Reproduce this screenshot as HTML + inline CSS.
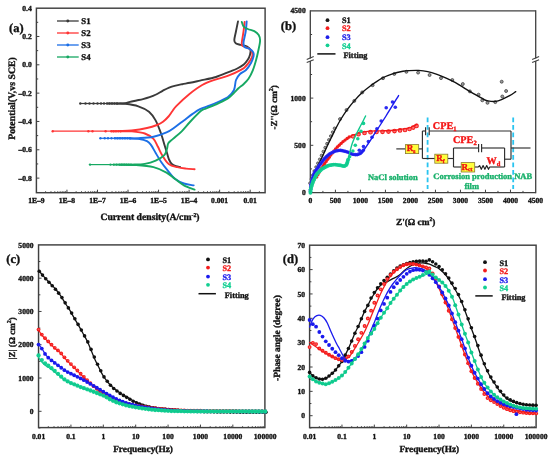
<!DOCTYPE html>
<html><head><meta charset="utf-8"><style>
html,body{margin:0;padding:0;background:#fff;}
svg{display:block;filter:blur(0.3px);}
text{font-family:"Liberation Serif", serif;stroke-width:0.35px;paint-order:stroke;text-rendering:geometricPrecision;}
</style></head><body>
<svg width="550" height="460" viewBox="0 0 550 460">
<rect width="550" height="460" fill="#fff"/>
<rect x="36.4" y="8.2" width="228.7" height="184.5" fill="none" stroke="#404040" stroke-width="1.45"/>
<text x="31.8" y="10.74" font-size="7.6" text-anchor="end" fill="#111" stroke="#111" stroke-width="0" font-weight="bold" >0.4</text>
<line x1="36.4" y1="36.47" x2="39.4" y2="36.47" stroke="#404040" stroke-width="1" />
<text x="31.8" y="39.07" font-size="7.6" text-anchor="end" fill="#111" stroke="#111" stroke-width="0" font-weight="bold" >0.2</text>
<line x1="36.4" y1="64.8" x2="39.4" y2="64.8" stroke="#404040" stroke-width="1" />
<text x="31.8" y="67.4" font-size="7.6" text-anchor="end" fill="#111" stroke="#111" stroke-width="0" font-weight="bold" >0.0</text>
<line x1="36.4" y1="93.13" x2="39.4" y2="93.13" stroke="#404040" stroke-width="1" />
<text x="31.8" y="95.73" font-size="7.6" text-anchor="end" fill="#111" stroke="#111" stroke-width="0" font-weight="bold" >&#8211;0.2</text>
<line x1="36.4" y1="121.46" x2="39.4" y2="121.46" stroke="#404040" stroke-width="1" />
<text x="31.8" y="124.06" font-size="7.6" text-anchor="end" fill="#111" stroke="#111" stroke-width="0" font-weight="bold" >&#8211;0.4</text>
<line x1="36.4" y1="149.79" x2="39.4" y2="149.79" stroke="#404040" stroke-width="1" />
<text x="31.8" y="152.39" font-size="7.6" text-anchor="end" fill="#111" stroke="#111" stroke-width="0" font-weight="bold" >&#8211;0.6</text>
<line x1="36.4" y1="178.12" x2="39.4" y2="178.12" stroke="#404040" stroke-width="1" />
<text x="31.8" y="180.72" font-size="7.6" text-anchor="end" fill="#111" stroke="#111" stroke-width="0" font-weight="bold" >&#8211;0.8</text>
<line x1="36.4" y1="22.3" x2="38.2" y2="22.3" stroke="#404040" stroke-width="1" />
<line x1="36.4" y1="50.63" x2="38.2" y2="50.63" stroke="#404040" stroke-width="1" />
<line x1="36.4" y1="78.97" x2="38.2" y2="78.97" stroke="#404040" stroke-width="1" />
<line x1="36.4" y1="107.3" x2="38.2" y2="107.3" stroke="#404040" stroke-width="1" />
<line x1="36.4" y1="135.62" x2="38.2" y2="135.62" stroke="#404040" stroke-width="1" />
<line x1="36.4" y1="163.95" x2="38.2" y2="163.95" stroke="#404040" stroke-width="1" />
<text x="36.4" y="202.8" font-size="7.6" text-anchor="middle" fill="#111" stroke="#111" stroke-width="0" font-weight="bold" >1E&#8211;9</text>
<line x1="45.59" y1="192.7" x2="45.59" y2="191.1" stroke="#404040" stroke-width="0.8" />
<line x1="50.97" y1="192.7" x2="50.97" y2="191.1" stroke="#404040" stroke-width="0.8" />
<line x1="54.79" y1="192.7" x2="54.79" y2="191.1" stroke="#404040" stroke-width="0.8" />
<line x1="57.75" y1="192.7" x2="57.75" y2="191.1" stroke="#404040" stroke-width="0.8" />
<line x1="60.16" y1="192.7" x2="60.16" y2="191.1" stroke="#404040" stroke-width="0.8" />
<line x1="62.21" y1="192.7" x2="62.21" y2="191.1" stroke="#404040" stroke-width="0.8" />
<line x1="63.98" y1="192.7" x2="63.98" y2="191.1" stroke="#404040" stroke-width="0.8" />
<line x1="65.54" y1="192.7" x2="65.54" y2="191.1" stroke="#404040" stroke-width="0.8" />
<line x1="66.94" y1="192.7" x2="66.94" y2="189.7" stroke="#404040" stroke-width="1" />
<text x="66.94" y="202.8" font-size="7.6" text-anchor="middle" fill="#111" stroke="#111" stroke-width="0" font-weight="bold" >1E&#8211;8</text>
<line x1="76.13" y1="192.7" x2="76.13" y2="191.1" stroke="#404040" stroke-width="0.8" />
<line x1="81.51" y1="192.7" x2="81.51" y2="191.1" stroke="#404040" stroke-width="0.8" />
<line x1="85.33" y1="192.7" x2="85.33" y2="191.1" stroke="#404040" stroke-width="0.8" />
<line x1="88.29" y1="192.7" x2="88.29" y2="191.1" stroke="#404040" stroke-width="0.8" />
<line x1="90.7" y1="192.7" x2="90.7" y2="191.1" stroke="#404040" stroke-width="0.8" />
<line x1="92.75" y1="192.7" x2="92.75" y2="191.1" stroke="#404040" stroke-width="0.8" />
<line x1="94.52" y1="192.7" x2="94.52" y2="191.1" stroke="#404040" stroke-width="0.8" />
<line x1="96.08" y1="192.7" x2="96.08" y2="191.1" stroke="#404040" stroke-width="0.8" />
<line x1="97.48" y1="192.7" x2="97.48" y2="189.7" stroke="#404040" stroke-width="1" />
<text x="97.48" y="202.8" font-size="7.6" text-anchor="middle" fill="#111" stroke="#111" stroke-width="0" font-weight="bold" >1E&#8211;7</text>
<line x1="106.67" y1="192.7" x2="106.67" y2="191.1" stroke="#404040" stroke-width="0.8" />
<line x1="112.05" y1="192.7" x2="112.05" y2="191.1" stroke="#404040" stroke-width="0.8" />
<line x1="115.87" y1="192.7" x2="115.87" y2="191.1" stroke="#404040" stroke-width="0.8" />
<line x1="118.83" y1="192.7" x2="118.83" y2="191.1" stroke="#404040" stroke-width="0.8" />
<line x1="121.24" y1="192.7" x2="121.24" y2="191.1" stroke="#404040" stroke-width="0.8" />
<line x1="123.29" y1="192.7" x2="123.29" y2="191.1" stroke="#404040" stroke-width="0.8" />
<line x1="125.06" y1="192.7" x2="125.06" y2="191.1" stroke="#404040" stroke-width="0.8" />
<line x1="126.62" y1="192.7" x2="126.62" y2="191.1" stroke="#404040" stroke-width="0.8" />
<line x1="128.02" y1="192.7" x2="128.02" y2="189.7" stroke="#404040" stroke-width="1" />
<text x="128.02" y="202.8" font-size="7.6" text-anchor="middle" fill="#111" stroke="#111" stroke-width="0" font-weight="bold" >1E&#8211;6</text>
<line x1="137.21" y1="192.7" x2="137.21" y2="191.1" stroke="#404040" stroke-width="0.8" />
<line x1="142.59" y1="192.7" x2="142.59" y2="191.1" stroke="#404040" stroke-width="0.8" />
<line x1="146.41" y1="192.7" x2="146.41" y2="191.1" stroke="#404040" stroke-width="0.8" />
<line x1="149.37" y1="192.7" x2="149.37" y2="191.1" stroke="#404040" stroke-width="0.8" />
<line x1="151.78" y1="192.7" x2="151.78" y2="191.1" stroke="#404040" stroke-width="0.8" />
<line x1="153.83" y1="192.7" x2="153.83" y2="191.1" stroke="#404040" stroke-width="0.8" />
<line x1="155.6" y1="192.7" x2="155.6" y2="191.1" stroke="#404040" stroke-width="0.8" />
<line x1="157.16" y1="192.7" x2="157.16" y2="191.1" stroke="#404040" stroke-width="0.8" />
<line x1="158.56" y1="192.7" x2="158.56" y2="189.7" stroke="#404040" stroke-width="1" />
<text x="158.56" y="202.8" font-size="7.6" text-anchor="middle" fill="#111" stroke="#111" stroke-width="0" font-weight="bold" >1E&#8211;5</text>
<line x1="167.75" y1="192.7" x2="167.75" y2="191.1" stroke="#404040" stroke-width="0.8" />
<line x1="173.13" y1="192.7" x2="173.13" y2="191.1" stroke="#404040" stroke-width="0.8" />
<line x1="176.95" y1="192.7" x2="176.95" y2="191.1" stroke="#404040" stroke-width="0.8" />
<line x1="179.91" y1="192.7" x2="179.91" y2="191.1" stroke="#404040" stroke-width="0.8" />
<line x1="182.32" y1="192.7" x2="182.32" y2="191.1" stroke="#404040" stroke-width="0.8" />
<line x1="184.37" y1="192.7" x2="184.37" y2="191.1" stroke="#404040" stroke-width="0.8" />
<line x1="186.14" y1="192.7" x2="186.14" y2="191.1" stroke="#404040" stroke-width="0.8" />
<line x1="187.7" y1="192.7" x2="187.7" y2="191.1" stroke="#404040" stroke-width="0.8" />
<line x1="189.1" y1="192.7" x2="189.1" y2="189.7" stroke="#404040" stroke-width="1" />
<text x="189.1" y="202.8" font-size="7.6" text-anchor="middle" fill="#111" stroke="#111" stroke-width="0" font-weight="bold" >1E&#8211;4</text>
<line x1="198.29" y1="192.7" x2="198.29" y2="191.1" stroke="#404040" stroke-width="0.8" />
<line x1="203.67" y1="192.7" x2="203.67" y2="191.1" stroke="#404040" stroke-width="0.8" />
<line x1="207.49" y1="192.7" x2="207.49" y2="191.1" stroke="#404040" stroke-width="0.8" />
<line x1="210.45" y1="192.7" x2="210.45" y2="191.1" stroke="#404040" stroke-width="0.8" />
<line x1="212.86" y1="192.7" x2="212.86" y2="191.1" stroke="#404040" stroke-width="0.8" />
<line x1="214.91" y1="192.7" x2="214.91" y2="191.1" stroke="#404040" stroke-width="0.8" />
<line x1="216.68" y1="192.7" x2="216.68" y2="191.1" stroke="#404040" stroke-width="0.8" />
<line x1="218.24" y1="192.7" x2="218.24" y2="191.1" stroke="#404040" stroke-width="0.8" />
<line x1="219.64" y1="192.7" x2="219.64" y2="189.7" stroke="#404040" stroke-width="1" />
<text x="219.64" y="202.8" font-size="7.6" text-anchor="middle" fill="#111" stroke="#111" stroke-width="0" font-weight="bold" >0.001</text>
<line x1="228.83" y1="192.7" x2="228.83" y2="191.1" stroke="#404040" stroke-width="0.8" />
<line x1="234.21" y1="192.7" x2="234.21" y2="191.1" stroke="#404040" stroke-width="0.8" />
<line x1="238.03" y1="192.7" x2="238.03" y2="191.1" stroke="#404040" stroke-width="0.8" />
<line x1="240.99" y1="192.7" x2="240.99" y2="191.1" stroke="#404040" stroke-width="0.8" />
<line x1="243.4" y1="192.7" x2="243.4" y2="191.1" stroke="#404040" stroke-width="0.8" />
<line x1="245.45" y1="192.7" x2="245.45" y2="191.1" stroke="#404040" stroke-width="0.8" />
<line x1="247.22" y1="192.7" x2="247.22" y2="191.1" stroke="#404040" stroke-width="0.8" />
<line x1="248.78" y1="192.7" x2="248.78" y2="191.1" stroke="#404040" stroke-width="0.8" />
<line x1="250.18" y1="192.7" x2="250.18" y2="189.7" stroke="#404040" stroke-width="1" />
<text x="250.18" y="202.8" font-size="7.6" text-anchor="middle" fill="#111" stroke="#111" stroke-width="0" font-weight="bold" >0.01</text>
<line x1="259.37" y1="192.7" x2="259.37" y2="191.1" stroke="#404040" stroke-width="0.8" />
<text x="150" y="220" font-size="9.7" text-anchor="middle" fill="#111" stroke="#111" stroke-width="0.35" font-weight="bold" >Current density(A/cm<tspan font-size="5.8" dy="-3.5">-2</tspan><tspan dy="3.5">)</tspan></text>
<text x="14.6" y="98.5" font-size="9.8" text-anchor="middle" fill="#111" stroke="#111" stroke-width="0.35" font-weight="bold" transform="rotate(-90 14.6 98.5)" >Potential(V,vs SCE)</text>
<text x="16.3" y="32" font-size="12.5" text-anchor="middle" fill="#111" stroke="#111" stroke-width="0.35" font-weight="bold" >(a)</text>
<line x1="57" y1="21" x2="78.7" y2="21" stroke="#3a3a3a" stroke-width="1.3" />
<circle cx="67.8" cy="21" r="1.45" fill="#3a3a3a"/>
<text x="81.3" y="24.2" font-size="8.8" text-anchor="start" fill="#111" stroke="#111" stroke-width="0.35" font-weight="bold" >S1</text>
<line x1="57" y1="33" x2="78.7" y2="33" stroke="#ff3535" stroke-width="1.3" />
<circle cx="67.8" cy="33" r="1.45" fill="#ff3535"/>
<text x="81.3" y="36.2" font-size="8.8" text-anchor="start" fill="#111" stroke="#111" stroke-width="0.35" font-weight="bold" >S2</text>
<line x1="57" y1="45" x2="78.7" y2="45" stroke="#1c6fe6" stroke-width="1.3" />
<circle cx="67.8" cy="45" r="1.45" fill="#1c6fe6"/>
<text x="81.3" y="48.2" font-size="8.8" text-anchor="start" fill="#111" stroke="#111" stroke-width="0.35" font-weight="bold" >S3</text>
<line x1="57" y1="57" x2="78.7" y2="57" stroke="#16a862" stroke-width="1.3" />
<circle cx="67.8" cy="57" r="1.45" fill="#16a862"/>
<text x="81.3" y="60.2" font-size="8.8" text-anchor="start" fill="#111" stroke="#111" stroke-width="0.35" font-weight="bold" >S4</text>
<path d="M108 103.5 C109.5 103.5 114.13 103.55 117 103.5 C119.87 103.45 123.03 103.47 125.2 103.2 C127.37 102.93 128.12 102.35 130 101.9 C131.88 101.45 134.33 100.97 136.5 100.5 C138.67 100.03 140.82 99.65 143 99.1 C145.18 98.55 147.42 97.97 149.6 97.2 C151.78 96.43 153.93 95.57 156.1 94.5 C158.27 93.43 160.43 91.95 162.6 90.8 C164.77 89.65 166.93 88.47 169.1 87.6 C171.27 86.73 173.42 86.17 175.6 85.6 C177.78 85.03 179.8 84.67 182.2 84.2 C184.6 83.73 187.03 83.4 190 82.8 C192.97 82.2 195.67 81.57 200 80.6 C204.33 79.63 211.13 78.47 216 77 C220.87 75.53 225.65 73.22 229.2 71.8 C232.75 70.38 234.87 69.72 237.3 68.5 C239.73 67.28 242.03 65.98 243.8 64.5 C245.57 63.02 246.87 61.23 247.9 59.6 C248.93 57.97 249.58 56.33 250 54.7 C250.42 53.07 250.88 51.17 250.4 49.8 C249.92 48.43 248.73 47.32 247.1 46.5 C245.47 45.68 242.5 45.43 240.6 44.9 C238.7 44.37 236.75 44.12 235.7 43.3 C234.65 42.48 234.27 41.93 234.3 40 C234.33 38.07 235.28 34.8 235.9 31.7 C236.52 28.6 237.65 23.12 238 21.4" fill="none" stroke="#3a3a3a" stroke-width="1.9" stroke-linejoin="round" stroke-linecap="round" />
<path d="M117 103.6 C118.37 103.63 121.65 103.35 125.2 103.8 C128.75 104.25 134.33 104.98 138.3 106.3 C142.27 107.62 146.12 109.35 149 111.7 C151.88 114.05 153.6 116.77 155.6 120.4 C157.6 124.03 159.52 129.4 161 133.5 C162.48 137.6 163.5 141.75 164.5 145 C165.5 148.25 166.25 150.58 167 153 C167.75 155.42 168.2 157.67 169 159.5 C169.8 161.33 170.63 162.88 171.8 164 C172.97 165.12 174.63 165.7 176 166.2 C177.37 166.7 179.33 166.87 180 167" fill="none" stroke="#3a3a3a" stroke-width="1.9" stroke-linejoin="round" stroke-linecap="round" />
<path d="M112 131.2 C113.33 131.18 116.72 131.22 120 131.1 C123.28 130.98 127.2 131.02 131.7 130.5 C136.2 129.98 142.78 128.92 147 128 C151.22 127.08 154.33 126.03 157 125 C159.67 123.97 161.08 123.22 163 121.8 C164.92 120.38 166.92 118.3 168.5 116.5 C170.08 114.7 171.17 112.78 172.5 111 C173.83 109.22 173.72 108.6 176.5 105.8 C179.28 103 184.92 97.67 189.2 94.2 C193.48 90.73 197.85 87.43 202.2 85 C206.55 82.57 210.95 81.15 215.3 79.6 C219.65 78.05 223.95 77.37 228.3 75.7 C232.65 74.03 238.45 71.22 241.4 69.6 C244.35 67.98 244.48 67.6 246 66 C247.52 64.4 249.42 61.83 250.5 60 C251.58 58.17 252.42 56.63 252.5 55 C252.58 53.37 251.97 51.45 251 50.2 C250.03 48.95 248.13 48.22 246.7 47.5 C245.27 46.78 243.22 46.72 242.4 45.9 C241.58 45.08 241.62 44.97 241.8 42.6 C241.98 40.23 243.03 35.13 243.5 31.7 C243.97 28.27 244.42 23.62 244.6 22" fill="none" stroke="#ff3535" stroke-width="1.9" stroke-linejoin="round" stroke-linecap="round" />
<path d="M120 131.2 C121.95 131.23 127.57 131.02 131.7 131.4 C135.83 131.78 141.17 132.25 144.8 133.5 C148.43 134.75 151.33 136.73 153.5 138.9 C155.67 141.07 156.35 143.78 157.8 146.5 C159.25 149.22 160.38 152.3 162.2 155.2 C164.02 158.1 166.17 161.9 168.7 163.9 C171.23 165.9 174.52 166.42 177.4 167.2 C180.28 167.98 183.13 168.27 186 168.6 C188.87 168.93 193.17 169.1 194.6 169.2" fill="none" stroke="#ff3535" stroke-width="1.9" stroke-linejoin="round" stroke-linecap="round" />
<path d="M115 138.3 C117.5 138.3 126.12 138.32 130 138.3 C133.88 138.28 134.38 138.47 138.3 138.2 C142.22 137.93 148.8 137.67 153.5 136.7 C158.2 135.73 162.88 134.02 166.5 132.4 C170.12 130.78 172.3 129 175.2 127 C178.1 125 181 122.58 183.9 120.4 C186.8 118.22 189.92 115.77 192.6 113.9 C195.28 112.03 197.1 110.6 200 109.2 C202.9 107.8 207 106.7 210 105.5 C213 104.3 215 103.42 218 102 C221 100.58 225.33 99 228 97 C230.67 95 232.67 92.83 234 90 C235.33 87.17 235 82.67 236 80 C237 77.33 238.33 75.67 240 74 C241.67 72.33 244.17 71.83 246 70 C247.83 68.17 249.73 65.33 251 63 C252.27 60.67 253.22 57.77 253.6 56 C253.98 54.23 253.9 53.55 253.3 52.4 C252.7 51.25 251.45 50 250 49.1 C248.55 48.2 245.68 48.08 244.6 47 C243.52 45.92 243.32 45.15 243.5 42.6 C243.68 40.05 245.17 35.23 245.7 31.7 C246.23 28.17 246.53 23.12 246.7 21.4" fill="none" stroke="#1c6fe6" stroke-width="1.9" stroke-linejoin="round" stroke-linecap="round" />
<path d="M130 138.5 C131.38 138.57 135.47 138.47 138.3 138.9 C141.13 139.33 144.83 140.02 147 141.1 C149.17 142.18 149.85 143.42 151.3 145.4 C152.75 147.38 154.08 150.28 155.7 153 C157.32 155.72 159.02 158.8 161 161.7 C162.98 164.6 165.23 167.5 167.6 170.4 C169.97 173.3 172.48 176.92 175.2 179.1 C177.92 181.28 180.82 182.45 183.9 183.5 C186.98 184.55 192.07 185.08 193.7 185.4" fill="none" stroke="#1c6fe6" stroke-width="1.9" stroke-linejoin="round" stroke-linecap="round" />
<path d="M114 164.6 C115.33 164.6 119.05 164.6 122 164.6 C124.95 164.6 127.9 164.72 131.7 164.6 C135.5 164.48 140.8 164.55 144.8 163.9 C148.8 163.25 152.45 162.15 155.7 160.7 C158.95 159.25 162.42 157.2 164.3 155.2 C166.18 153.2 166.33 150.68 167 148.7 C167.67 146.72 167.3 144.93 168.3 143.3 C169.3 141.67 170.77 140.9 173 138.9 C175.23 136.9 178.8 134.2 181.7 131.3 C184.6 128.4 187.12 124.95 190.4 121.5 C193.68 118.05 198.75 112.77 201.4 110.6 C204.05 108.43 203.58 109.67 206.3 108.5 C209.02 107.33 214.17 105.23 217.7 103.6 C221.23 101.97 224.88 100.38 227.5 98.7 C230.12 97.02 231.57 95.23 233.4 93.5 C235.23 91.77 236.82 89.85 238.5 88.3 C240.18 86.75 241.83 85.78 243.5 84.2 C245.17 82.62 246.95 81.1 248.5 78.8 C250.05 76.5 251.53 73.53 252.8 70.4 C254.07 67.27 255.15 63.43 256.1 60 C257.05 56.57 257.83 53.05 258.5 49.8 C259.17 46.55 260.07 42.97 260.1 40.5 C260.13 38.03 259.67 36.55 258.7 35 C257.73 33.45 256.12 32.2 254.3 31.2 C252.48 30.2 249.6 29.82 247.8 29 C246 28.18 244.5 27.47 243.5 26.3 C242.5 25.13 242.08 22.72 241.8 22" fill="none" stroke="#16a862" stroke-width="1.9" stroke-linejoin="round" stroke-linecap="round" />
<path d="M120 164.7 C122.67 164.75 130.42 164.58 136 165 C141.58 165.42 148.42 165.93 153.5 167.2 C158.58 168.47 162.88 170.62 166.5 172.6 C170.12 174.58 172.3 176.98 175.2 179.1 C178.1 181.22 180.67 183.55 183.9 185.3 C187.13 187.05 192.82 188.88 194.6 189.6" fill="none" stroke="#16a862" stroke-width="1.9" stroke-linejoin="round" stroke-linecap="round" />
<line x1="80.3" y1="103.5" x2="108.5" y2="103.5" stroke="#3a3a3a" stroke-width="1.2" />
<circle cx="80.3" cy="103.5" r="1.2" fill="#3a3a3a"/>
<circle cx="85.5" cy="103.5" r="1.2" fill="#3a3a3a"/>
<circle cx="89.5" cy="103.5" r="1.2" fill="#3a3a3a"/>
<circle cx="93.5" cy="103.5" r="1.2" fill="#3a3a3a"/>
<circle cx="97.5" cy="103.5" r="1.2" fill="#3a3a3a"/>
<circle cx="101" cy="103.5" r="1.2" fill="#3a3a3a"/>
<circle cx="104" cy="103.5" r="1.2" fill="#3a3a3a"/>
<circle cx="107" cy="103.5" r="1.2" fill="#3a3a3a"/>
<circle cx="109.5" cy="103.5" r="1.2" fill="#3a3a3a"/>
<circle cx="112" cy="103.5" r="1.2" fill="#3a3a3a"/>
<circle cx="114.5" cy="103.5" r="1.2" fill="#3a3a3a"/>
<circle cx="117" cy="103.5" r="1.2" fill="#3a3a3a"/>
<line x1="52.7" y1="131.2" x2="112.5" y2="131.2" stroke="#ff3535" stroke-width="1.2" />
<circle cx="52.7" cy="131.2" r="1.2" fill="#ff3535"/>
<circle cx="88.4" cy="131.2" r="1.2" fill="#ff3535"/>
<circle cx="92.5" cy="131.2" r="1.2" fill="#ff3535"/>
<circle cx="105.6" cy="131.2" r="1.2" fill="#ff3535"/>
<circle cx="111.3" cy="131.2" r="1.2" fill="#ff3535"/>
<circle cx="113.7" cy="131.2" r="1.2" fill="#ff3535"/>
<circle cx="116" cy="131.2" r="1.2" fill="#ff3535"/>
<circle cx="118.3" cy="131.2" r="1.2" fill="#ff3535"/>
<circle cx="120.5" cy="131.2" r="1.2" fill="#ff3535"/>
<line x1="100.3" y1="138.3" x2="115.5" y2="138.3" stroke="#1c6fe6" stroke-width="1.2" />
<circle cx="100.4" cy="138.3" r="1.2" fill="#1c6fe6"/>
<circle cx="104.7" cy="138.3" r="1.2" fill="#1c6fe6"/>
<circle cx="108" cy="138.3" r="1.2" fill="#1c6fe6"/>
<circle cx="111.5" cy="138.3" r="1.2" fill="#1c6fe6"/>
<circle cx="114.8" cy="138.3" r="1.2" fill="#1c6fe6"/>
<circle cx="117.5" cy="138.3" r="1.2" fill="#1c6fe6"/>
<circle cx="120" cy="138.3" r="1.2" fill="#1c6fe6"/>
<circle cx="122.5" cy="138.3" r="1.2" fill="#1c6fe6"/>
<circle cx="125" cy="138.3" r="1.2" fill="#1c6fe6"/>
<circle cx="127.5" cy="138.3" r="1.2" fill="#1c6fe6"/>
<circle cx="130" cy="138.3" r="1.2" fill="#1c6fe6"/>
<line x1="90" y1="164.6" x2="114.5" y2="164.6" stroke="#16a862" stroke-width="1.2" />
<circle cx="90" cy="164.6" r="1.2" fill="#16a862"/>
<circle cx="110.5" cy="164.6" r="1.2" fill="#16a862"/>
<circle cx="113.7" cy="164.6" r="1.2" fill="#16a862"/>
<circle cx="116.6" cy="164.6" r="1.2" fill="#16a862"/>
<circle cx="119.3" cy="164.6" r="1.2" fill="#16a862"/>
<circle cx="121.8" cy="164.6" r="1.2" fill="#16a862"/>
<circle cx="124.2" cy="164.6" r="1.2" fill="#16a862"/>
<circle cx="126.5" cy="164.6" r="1.2" fill="#16a862"/>
<circle cx="128.8" cy="164.6" r="1.2" fill="#16a862"/>
<circle cx="131" cy="164.6" r="1.2" fill="#16a862"/>
<line x1="310.3" y1="10.8" x2="535.7" y2="10.8" stroke="#404040" stroke-width="1.3" />
<line x1="310.3" y1="192.7" x2="535.7" y2="192.7" stroke="#404040" stroke-width="1.3" />
<line x1="310.3" y1="10.15" x2="310.3" y2="58.4" stroke="#404040" stroke-width="1.3" />
<line x1="310.3" y1="61" x2="310.3" y2="193.35" stroke="#404040" stroke-width="1.3" />
<line x1="306.7" y1="59.4" x2="313.7" y2="56.5" stroke="#404040" stroke-width="1.1" />
<line x1="306.7" y1="62.6" x2="313.7" y2="59.7" stroke="#404040" stroke-width="1.1" />
<line x1="535.7" y1="10.15" x2="535.7" y2="58.4" stroke="#404040" stroke-width="1.3" />
<line x1="535.7" y1="61" x2="535.7" y2="193.35" stroke="#404040" stroke-width="1.3" />
<line x1="532.1" y1="59.4" x2="539.1" y2="56.5" stroke="#404040" stroke-width="1.1" />
<line x1="532.1" y1="62.6" x2="539.1" y2="59.7" stroke="#404040" stroke-width="1.1" />
<text x="305.7" y="195.1" font-size="7.6" text-anchor="end" fill="#111" stroke="#111" stroke-width="0" font-weight="bold" >0</text>
<line x1="310.3" y1="145.3" x2="313.3" y2="145.3" stroke="#404040" stroke-width="1" />
<text x="305.7" y="147.9" font-size="7.6" text-anchor="end" fill="#111" stroke="#111" stroke-width="0" font-weight="bold" >500</text>
<line x1="310.3" y1="98.1" x2="313.3" y2="98.1" stroke="#404040" stroke-width="1" />
<text x="305.7" y="100.7" font-size="7.6" text-anchor="end" fill="#111" stroke="#111" stroke-width="0" font-weight="bold" >1000</text>
<line x1="310.3" y1="168.9" x2="312.1" y2="168.9" stroke="#404040" stroke-width="1" />
<line x1="310.3" y1="121.7" x2="312.1" y2="121.7" stroke="#404040" stroke-width="1" />
<line x1="310.3" y1="74.5" x2="312.1" y2="74.5" stroke="#404040" stroke-width="1" />
<text x="305.7" y="13.4" font-size="7.6" text-anchor="end" fill="#111" stroke="#111" stroke-width="0" font-weight="bold" >4500</text>
<line x1="310.3" y1="34.5" x2="312.1" y2="34.5" stroke="#404040" stroke-width="1" />
<text x="310.4" y="203" font-size="7.6" text-anchor="middle" fill="#111" stroke="#111" stroke-width="0" font-weight="bold" >0</text>
<line x1="335.41" y1="192.7" x2="335.41" y2="189.7" stroke="#404040" stroke-width="1" />
<text x="335.41" y="203" font-size="7.6" text-anchor="middle" fill="#111" stroke="#111" stroke-width="0" font-weight="bold" >500</text>
<line x1="360.42" y1="192.7" x2="360.42" y2="189.7" stroke="#404040" stroke-width="1" />
<text x="360.42" y="203" font-size="7.6" text-anchor="middle" fill="#111" stroke="#111" stroke-width="0" font-weight="bold" >1000</text>
<line x1="385.43" y1="192.7" x2="385.43" y2="189.7" stroke="#404040" stroke-width="1" />
<text x="385.43" y="203" font-size="7.6" text-anchor="middle" fill="#111" stroke="#111" stroke-width="0" font-weight="bold" >1500</text>
<line x1="410.44" y1="192.7" x2="410.44" y2="189.7" stroke="#404040" stroke-width="1" />
<text x="410.44" y="203" font-size="7.6" text-anchor="middle" fill="#111" stroke="#111" stroke-width="0" font-weight="bold" >2000</text>
<line x1="435.45" y1="192.7" x2="435.45" y2="189.7" stroke="#404040" stroke-width="1" />
<text x="435.45" y="203" font-size="7.6" text-anchor="middle" fill="#111" stroke="#111" stroke-width="0" font-weight="bold" >2500</text>
<line x1="460.46" y1="192.7" x2="460.46" y2="189.7" stroke="#404040" stroke-width="1" />
<text x="460.46" y="203" font-size="7.6" text-anchor="middle" fill="#111" stroke="#111" stroke-width="0" font-weight="bold" >3000</text>
<line x1="485.47" y1="192.7" x2="485.47" y2="189.7" stroke="#404040" stroke-width="1" />
<text x="485.47" y="203" font-size="7.6" text-anchor="middle" fill="#111" stroke="#111" stroke-width="0" font-weight="bold" >3500</text>
<line x1="510.48" y1="192.7" x2="510.48" y2="189.7" stroke="#404040" stroke-width="1" />
<text x="510.48" y="203" font-size="7.6" text-anchor="middle" fill="#111" stroke="#111" stroke-width="0" font-weight="bold" >4000</text>
<text x="535.49" y="203" font-size="7.6" text-anchor="middle" fill="#111" stroke="#111" stroke-width="0" font-weight="bold" >4500</text>
<line x1="322.9" y1="192.7" x2="322.9" y2="190.9" stroke="#404040" stroke-width="1" />
<line x1="347.91" y1="192.7" x2="347.91" y2="190.9" stroke="#404040" stroke-width="1" />
<line x1="372.92" y1="192.7" x2="372.92" y2="190.9" stroke="#404040" stroke-width="1" />
<line x1="397.93" y1="192.7" x2="397.93" y2="190.9" stroke="#404040" stroke-width="1" />
<line x1="422.94" y1="192.7" x2="422.94" y2="190.9" stroke="#404040" stroke-width="1" />
<line x1="447.95" y1="192.7" x2="447.95" y2="190.9" stroke="#404040" stroke-width="1" />
<line x1="472.96" y1="192.7" x2="472.96" y2="190.9" stroke="#404040" stroke-width="1" />
<line x1="497.98" y1="192.7" x2="497.98" y2="190.9" stroke="#404040" stroke-width="1" />
<line x1="522.99" y1="192.7" x2="522.99" y2="190.9" stroke="#404040" stroke-width="1" />
<text x="415.7" y="224.5" font-size="9.3" text-anchor="middle" fill="#111" stroke="#111" stroke-width="0.35" font-weight="bold" >Z'(&#937; cm<tspan font-size="5.6" dy="-3.5">2</tspan><tspan dy="3.5">)</tspan></text>
<text x="276.7" y="107.4" font-size="9.1" text-anchor="middle" fill="#111" stroke="#111" stroke-width="0.35" font-weight="bold" transform="rotate(-90 276.7 107.4)" >-Z''(&#937; cm<tspan font-size="6" dy="-3.5">2</tspan><tspan dy="3.5">)</tspan></text>
<text x="288.5" y="29.9" font-size="12.5" text-anchor="middle" fill="#111" stroke="#111" stroke-width="0.35" font-weight="bold" >(b)</text>
<circle cx="327.5" cy="20.2" r="1.9" fill="#1a1a1a"/>
<text x="342" y="23.4" font-size="8.3" text-anchor="start" fill="#111" stroke="#111" stroke-width="0.35" font-weight="bold" >S1</text>
<circle cx="327.5" cy="28.2" r="1.9" fill="#f41c1c"/>
<text x="342" y="31.4" font-size="8.3" text-anchor="start" fill="#f41c1c" stroke="#f41c1c" stroke-width="0.35" font-weight="bold" >S2</text>
<circle cx="327.5" cy="37.2" r="1.9" fill="#1f1fe8"/>
<text x="342" y="40.4" font-size="8.3" text-anchor="start" fill="#1f1fe8" stroke="#1f1fe8" stroke-width="0.35" font-weight="bold" >S3</text>
<circle cx="327.5" cy="45.3" r="1.9" fill="#12cf92"/>
<text x="342" y="48.5" font-size="8.3" text-anchor="start" fill="#12cf92" stroke="#12cf92" stroke-width="0.35" font-weight="bold" >S4</text>
<line x1="317.3" y1="53.9" x2="335.5" y2="53.9" stroke="#111" stroke-width="1.5" />
<text x="343.5" y="58.2" font-size="8.3" text-anchor="start" fill="#111" stroke="#111" stroke-width="0.35" font-weight="bold" >Fitting</text>
<circle cx="310" cy="183.2" r="1.4" fill="#9a9a9a" stroke="#333" stroke-width="0.6"/>
<circle cx="311.43" cy="179.15" r="1.4" fill="#9a9a9a" stroke="#333" stroke-width="0.6"/>
<circle cx="312.87" cy="175.09" r="1.4" fill="#9a9a9a" stroke="#333" stroke-width="0.6"/>
<circle cx="314.3" cy="171.04" r="1.4" fill="#9a9a9a" stroke="#333" stroke-width="0.6"/>
<circle cx="316.06" cy="167.12" r="1.4" fill="#9a9a9a" stroke="#333" stroke-width="0.6"/>
<circle cx="317.91" cy="163.24" r="1.4" fill="#9a9a9a" stroke="#333" stroke-width="0.6"/>
<circle cx="319.75" cy="159.35" r="1.4" fill="#9a9a9a" stroke="#333" stroke-width="0.6"/>
<circle cx="321.56" cy="155.45" r="1.4" fill="#9a9a9a" stroke="#333" stroke-width="0.6"/>
<circle cx="323.35" cy="151.54" r="1.4" fill="#9a9a9a" stroke="#333" stroke-width="0.6"/>
<circle cx="325.14" cy="147.63" r="1.4" fill="#9a9a9a" stroke="#333" stroke-width="0.6"/>
<circle cx="327" cy="143.75" r="1.4" fill="#9a9a9a" stroke="#333" stroke-width="0.6"/>
<circle cx="328.89" cy="139.89" r="1.4" fill="#9a9a9a" stroke="#333" stroke-width="0.6"/>
<circle cx="330.78" cy="136.03" r="1.4" fill="#9a9a9a" stroke="#333" stroke-width="0.6"/>
<circle cx="332.67" cy="132.17" r="1.4" fill="#9a9a9a" stroke="#333" stroke-width="0.6"/>
<circle cx="334.56" cy="128.3" r="1.4" fill="#9a9a9a" stroke="#333" stroke-width="0.6"/>
<circle cx="340" cy="119.1" r="1.5" fill="#9a9a9a" stroke="#333" stroke-width="0.7"/>
<circle cx="346.5" cy="110" r="1.5" fill="#9a9a9a" stroke="#333" stroke-width="0.7"/>
<circle cx="354.3" cy="100.9" r="1.5" fill="#9a9a9a" stroke="#333" stroke-width="0.7"/>
<circle cx="362.2" cy="92.4" r="1.5" fill="#9a9a9a" stroke="#333" stroke-width="0.7"/>
<circle cx="372.6" cy="85.2" r="1.5" fill="#9a9a9a" stroke="#333" stroke-width="0.7"/>
<circle cx="383" cy="78.2" r="1.5" fill="#9a9a9a" stroke="#333" stroke-width="0.7"/>
<circle cx="394.3" cy="73.9" r="1.5" fill="#9a9a9a" stroke="#333" stroke-width="0.7"/>
<circle cx="406.4" cy="71.8" r="1.5" fill="#9a9a9a" stroke="#333" stroke-width="0.7"/>
<circle cx="418.1" cy="72.6" r="1.5" fill="#9a9a9a" stroke="#333" stroke-width="0.7"/>
<circle cx="429.6" cy="75" r="1.5" fill="#9a9a9a" stroke="#333" stroke-width="0.7"/>
<circle cx="441" cy="78.1" r="1.5" fill="#9a9a9a" stroke="#333" stroke-width="0.7"/>
<circle cx="452.3" cy="80" r="1.5" fill="#9a9a9a" stroke="#333" stroke-width="0.7"/>
<circle cx="462.8" cy="84" r="1.5" fill="#9a9a9a" stroke="#333" stroke-width="0.7"/>
<circle cx="469.9" cy="91.4" r="1.5" fill="#9a9a9a" stroke="#333" stroke-width="0.7"/>
<circle cx="478.6" cy="94.7" r="1.5" fill="#9a9a9a" stroke="#333" stroke-width="0.7"/>
<circle cx="482.3" cy="100.3" r="1.5" fill="#9a9a9a" stroke="#333" stroke-width="0.7"/>
<circle cx="487.5" cy="102.8" r="1.5" fill="#9a9a9a" stroke="#333" stroke-width="0.7"/>
<circle cx="495.3" cy="102.1" r="1.5" fill="#9a9a9a" stroke="#333" stroke-width="0.7"/>
<circle cx="502.3" cy="96.5" r="1.5" fill="#9a9a9a" stroke="#333" stroke-width="0.7"/>
<circle cx="506.1" cy="91" r="1.5" fill="#9a9a9a" stroke="#333" stroke-width="0.7"/>
<circle cx="501.7" cy="81.7" r="1.5" fill="#9a9a9a" stroke="#333" stroke-width="0.7"/>
<path d="M310.4 190.5 C310.53 189.33 310.3 186.83 311.2 183.5 C312.1 180.17 314.08 174.67 315.8 170.5 C317.52 166.33 319.63 162.5 321.5 158.5 C323.37 154.5 325.35 150 327 146.5 C328.65 143 329.85 140.67 331.4 137.5 C332.95 134.33 334.65 130.67 336.3 127.5 C337.95 124.33 339.38 121.6 341.3 118.5 C343.22 115.4 345.63 111.83 347.8 108.9 C349.97 105.97 351.9 103.62 354.3 100.9 C356.7 98.18 359.58 95.05 362.2 92.6 C364.82 90.15 366.68 88.6 370 86.2 C373.32 83.8 378.35 80.25 382.1 78.2 C385.85 76.15 389.02 75.05 392.5 73.9 C395.98 72.75 400.22 71.85 403 71.3 C405.78 70.75 406.62 70.75 409.2 70.6 C411.78 70.45 415.42 70.23 418.5 70.4 C421.58 70.57 424.62 70.93 427.7 71.6 C430.78 72.27 433.92 73.32 437 74.4 C440.08 75.48 443.12 76.72 446.2 78.1 C449.28 79.48 452.42 81 455.5 82.7 C458.58 84.4 461.63 86.45 464.7 88.3 C467.77 90.15 470.82 92.02 473.9 93.8 C476.98 95.58 480.85 97.82 483.2 99 C485.55 100.18 485.92 100.5 488 100.9 C490.08 101.3 493.27 101.7 495.7 101.4 C498.13 101.1 500.28 100.05 502.6 99.1 C504.92 98.15 507.42 96.93 509.6 95.7 C511.78 94.47 514.68 92.37 515.7 91.7" fill="none" stroke="#111" stroke-width="1.4" stroke-linejoin="round" stroke-linecap="round" />
<circle cx="316.7" cy="176.9" r="1.7" fill="#f42020"/>
<circle cx="317.93" cy="174.61" r="1.7" fill="#f42020"/>
<circle cx="319.17" cy="172.32" r="1.7" fill="#f42020"/>
<circle cx="320.43" cy="170.05" r="1.7" fill="#f42020"/>
<circle cx="321.83" cy="167.86" r="1.7" fill="#f42020"/>
<circle cx="323.23" cy="165.67" r="1.7" fill="#f42020"/>
<circle cx="324.66" cy="163.5" r="1.7" fill="#f42020"/>
<circle cx="326.19" cy="161.4" r="1.7" fill="#f42020"/>
<circle cx="327.72" cy="159.29" r="1.7" fill="#f42020"/>
<circle cx="329.25" cy="157.19" r="1.7" fill="#f42020"/>
<circle cx="330.79" cy="155.1" r="1.7" fill="#f42020"/>
<circle cx="332.41" cy="153.06" r="1.7" fill="#f42020"/>
<circle cx="334.02" cy="151.03" r="1.7" fill="#f42020"/>
<circle cx="335.64" cy="148.99" r="1.7" fill="#f42020"/>
<circle cx="337.36" cy="147.05" r="1.7" fill="#f42020"/>
<circle cx="339.22" cy="145.23" r="1.7" fill="#f42020"/>
<circle cx="341.07" cy="143.4" r="1.7" fill="#f42020"/>
<circle cx="342.97" cy="141.63" r="1.7" fill="#f42020"/>
<circle cx="345.06" cy="140.09" r="1.7" fill="#f42020"/>
<circle cx="347.15" cy="138.54" r="1.7" fill="#f42020"/>
<circle cx="349.24" cy="137" r="1.7" fill="#f42020"/>
<circle cx="353" cy="136.3" r="1.8" fill="#ff7a7a" stroke="#f42020" stroke-width="1.1"/>
<circle cx="358.5" cy="134.26" r="1.8" fill="#ff7a7a" stroke="#f42020" stroke-width="1.1"/>
<circle cx="364.5" cy="132.98" r="1.8" fill="#ff7a7a" stroke="#f42020" stroke-width="1.1"/>
<circle cx="370.5" cy="132.22" r="1.8" fill="#ff7a7a" stroke="#f42020" stroke-width="1.1"/>
<circle cx="376.5" cy="131.88" r="1.8" fill="#ff7a7a" stroke="#f42020" stroke-width="1.1"/>
<circle cx="382.5" cy="131.79" r="1.8" fill="#ff7a7a" stroke="#f42020" stroke-width="1.1"/>
<circle cx="388.5" cy="131.58" r="1.8" fill="#ff7a7a" stroke="#f42020" stroke-width="1.1"/>
<circle cx="394.5" cy="131.09" r="1.8" fill="#ff7a7a" stroke="#f42020" stroke-width="1.1"/>
<circle cx="400" cy="130.42" r="1.8" fill="#ff7a7a" stroke="#f42020" stroke-width="1.1"/>
<circle cx="405" cy="130.02" r="1.8" fill="#ff7a7a" stroke="#f42020" stroke-width="1.1"/>
<circle cx="409.5" cy="129.01" r="1.8" fill="#ff7a7a" stroke="#f42020" stroke-width="1.1"/>
<circle cx="413.2" cy="127.62" r="1.8" fill="#ff7a7a" stroke="#f42020" stroke-width="1.1"/>
<circle cx="416.5" cy="125.91" r="1.8" fill="#ff7a7a" stroke="#f42020" stroke-width="1.1"/>
<path d="M311 190 C311.33 189 312.15 186.08 313 184 C313.85 181.92 315 179.67 316.1 177.5 C317.2 175.33 318.33 173.15 319.6 171 C320.87 168.85 322 167.07 323.7 164.6 C325.4 162.13 327.77 158.88 329.8 156.2 C331.83 153.52 333.87 150.78 335.9 148.5 C337.93 146.22 339.65 144.48 342 142.5 C344.35 140.52 347.78 137.97 350 136.6 C352.22 135.23 353.6 134.95 355.3 134.3 C357 133.65 358.08 133.18 360.2 132.7 C362.32 132.22 365.53 131.7 368 131.4 C370.47 131.1 372.65 131 375 130.9 C377.35 130.8 379.43 130.87 382.1 130.8 C384.77 130.73 388.1 130.72 391 130.5 C393.9 130.28 396.83 129.87 399.5 129.5 C402.17 129.13 404.97 128.72 407 128.3 C409.03 127.88 410.05 127.67 411.7 127 C413.35 126.33 416.03 124.75 416.9 124.3" fill="none" stroke="#f01a1a" stroke-width="1.3" stroke-linejoin="round" stroke-linecap="round" />
<circle cx="310.4" cy="190.8" r="1.8" fill="#2b2bf2"/>
<circle cx="310.59" cy="189.21" r="1.8" fill="#2b2bf2"/>
<circle cx="310.79" cy="187.62" r="1.8" fill="#2b2bf2"/>
<circle cx="310.98" cy="186.03" r="1.8" fill="#2b2bf2"/>
<circle cx="311.17" cy="184.45" r="1.8" fill="#2b2bf2"/>
<circle cx="311.49" cy="182.88" r="1.8" fill="#2b2bf2"/>
<circle cx="311.84" cy="181.32" r="1.8" fill="#2b2bf2"/>
<circle cx="312.18" cy="179.75" r="1.8" fill="#2b2bf2"/>
<circle cx="312.54" cy="178.2" r="1.8" fill="#2b2bf2"/>
<circle cx="313.07" cy="176.69" r="1.8" fill="#2b2bf2"/>
<circle cx="313.6" cy="175.18" r="1.8" fill="#2b2bf2"/>
<circle cx="314.13" cy="173.67" r="1.8" fill="#2b2bf2"/>
<circle cx="314.76" cy="172.21" r="1.8" fill="#2b2bf2"/>
<circle cx="315.66" cy="170.89" r="1.8" fill="#2b2bf2"/>
<circle cx="316.56" cy="169.56" r="1.8" fill="#2b2bf2"/>
<circle cx="317.45" cy="168.24" r="1.8" fill="#2b2bf2"/>
<circle cx="318.35" cy="166.91" r="1.8" fill="#2b2bf2"/>
<circle cx="319.27" cy="165.6" r="1.8" fill="#2b2bf2"/>
<circle cx="320.21" cy="164.31" r="1.8" fill="#2b2bf2"/>
<circle cx="321.15" cy="163.01" r="1.8" fill="#2b2bf2"/>
<circle cx="322.1" cy="161.72" r="1.8" fill="#2b2bf2"/>
<circle cx="323.04" cy="160.43" r="1.8" fill="#2b2bf2"/>
<circle cx="323.98" cy="159.14" r="1.8" fill="#2b2bf2"/>
<circle cx="325.08" cy="157.99" r="1.8" fill="#2b2bf2"/>
<circle cx="326.27" cy="156.91" r="1.8" fill="#2b2bf2"/>
<circle cx="327.45" cy="155.84" r="1.8" fill="#2b2bf2"/>
<circle cx="328.64" cy="154.76" r="1.8" fill="#2b2bf2"/>
<circle cx="329.85" cy="153.73" r="1.8" fill="#2b2bf2"/>
<circle cx="331.29" cy="153.02" r="1.8" fill="#2b2bf2"/>
<circle cx="332.72" cy="152.32" r="1.8" fill="#2b2bf2"/>
<circle cx="334.16" cy="151.61" r="1.8" fill="#2b2bf2"/>
<circle cx="335.64" cy="151.04" r="1.8" fill="#2b2bf2"/>
<circle cx="337.22" cy="150.8" r="1.8" fill="#2b2bf2"/>
<circle cx="338.8" cy="150.57" r="1.8" fill="#2b2bf2"/>
<circle cx="340.38" cy="150.33" r="1.8" fill="#2b2bf2"/>
<circle cx="341.95" cy="150.61" r="1.8" fill="#2b2bf2"/>
<circle cx="343.51" cy="150.97" r="1.8" fill="#2b2bf2"/>
<circle cx="345.06" cy="151.33" r="1.8" fill="#2b2bf2"/>
<circle cx="346.62" cy="151.69" r="1.8" fill="#2b2bf2"/>
<circle cx="348.11" cy="152.26" r="1.8" fill="#2b2bf2"/>
<circle cx="349.57" cy="152.92" r="1.8" fill="#2b2bf2"/>
<circle cx="351.03" cy="153.58" r="1.8" fill="#2b2bf2"/>
<circle cx="352.49" cy="154.21" r="1.8" fill="#2b2bf2"/>
<circle cx="354.08" cy="154.44" r="1.8" fill="#2b2bf2"/>
<circle cx="355.66" cy="154.67" r="1.8" fill="#2b2bf2"/>
<circle cx="357.22" cy="154.59" r="1.8" fill="#2b2bf2"/>
<circle cx="358.73" cy="154.09" r="1.8" fill="#2b2bf2"/>
<circle cx="360.24" cy="153.56" r="1.8" fill="#2b2bf2"/>
<circle cx="361.33" cy="152.39" r="1.8" fill="#2b2bf2"/>
<circle cx="362.42" cy="151.22" r="1.8" fill="#2b2bf2"/>
<circle cx="363.51" cy="150.05" r="1.8" fill="#2b2bf2"/>
<circle cx="359.3" cy="150.2" r="1.8" fill="#2b2bf2"/>
<circle cx="363.5" cy="146.5" r="1.8" fill="#2b2bf2"/>
<circle cx="368.4" cy="141.5" r="1.8" fill="#2b2bf2"/>
<circle cx="372" cy="137.3" r="1.8" fill="#2b2bf2"/>
<circle cx="376.9" cy="128.7" r="1.8" fill="#2b2bf2"/>
<circle cx="381.2" cy="121" r="1.8" fill="#2b2bf2"/>
<circle cx="386.2" cy="107.7" r="1.8" fill="#2b2bf2"/>
<circle cx="392.5" cy="102" r="1.8" fill="#2b2bf2"/>
<circle cx="395.3" cy="107.3" r="1.8" fill="#2b2bf2"/>
<path d="M310.4 191 C310.53 189.9 310.85 186.48 311.2 184.4 C311.55 182.32 311.95 180.43 312.5 178.5 C313.05 176.57 313.43 174.83 314.5 172.8 C315.57 170.77 317.27 168.62 318.9 166.3 C320.53 163.98 322.5 160.95 324.3 158.9 C326.1 156.85 327.88 155.27 329.7 154 C331.52 152.73 333.38 151.88 335.2 151.3 C337.02 150.72 338.62 150.38 340.6 150.5 C342.58 150.62 345.13 151.35 347.1 152 C349.07 152.65 350.82 153.9 352.4 154.4 C353.98 154.9 355.3 155.1 356.6 155 C357.9 154.9 358.92 154.73 360.2 153.8 C361.48 152.87 363 151.03 364.3 149.4 C365.6 147.77 366.72 145.93 368 144 C369.28 142.07 369 142.47 372 137.8 C375 133.13 381.57 123.03 386 116 C390.43 108.97 396.5 99 398.6 95.6" fill="none" stroke="#1a1aee" stroke-width="1.4" stroke-linejoin="round" stroke-linecap="round" />
<circle cx="310.4" cy="192.8" r="1.9" fill="#14d093"/>
<circle cx="310.53" cy="191.21" r="1.9" fill="#14d093"/>
<circle cx="310.67" cy="189.61" r="1.9" fill="#14d093"/>
<circle cx="311.04" cy="188.06" r="1.9" fill="#14d093"/>
<circle cx="311.51" cy="186.53" r="1.9" fill="#14d093"/>
<circle cx="311.97" cy="185" r="1.9" fill="#14d093"/>
<circle cx="312.43" cy="183.47" r="1.9" fill="#14d093"/>
<circle cx="312.9" cy="181.94" r="1.9" fill="#14d093"/>
<circle cx="313.56" cy="180.48" r="1.9" fill="#14d093"/>
<circle cx="314.27" cy="179.05" r="1.9" fill="#14d093"/>
<circle cx="314.99" cy="177.62" r="1.9" fill="#14d093"/>
<circle cx="315.7" cy="176.19" r="1.9" fill="#14d093"/>
<circle cx="316.42" cy="174.76" r="1.9" fill="#14d093"/>
<circle cx="317.34" cy="173.47" r="1.9" fill="#14d093"/>
<circle cx="318.48" cy="172.35" r="1.9" fill="#14d093"/>
<circle cx="319.62" cy="171.23" r="1.9" fill="#14d093"/>
<circle cx="320.76" cy="170.11" r="1.9" fill="#14d093"/>
<circle cx="321.9" cy="168.99" r="1.9" fill="#14d093"/>
<circle cx="323.25" cy="168.15" r="1.9" fill="#14d093"/>
<circle cx="324.67" cy="167.41" r="1.9" fill="#14d093"/>
<circle cx="326.08" cy="166.66" r="1.9" fill="#14d093"/>
<circle cx="327.5" cy="165.92" r="1.9" fill="#14d093"/>
<circle cx="328.99" cy="165.39" r="1.9" fill="#14d093"/>
<circle cx="330.57" cy="165.13" r="1.9" fill="#14d093"/>
<circle cx="332.14" cy="164.87" r="1.9" fill="#14d093"/>
<circle cx="333.72" cy="164.61" r="1.9" fill="#14d093"/>
<circle cx="335.31" cy="164.62" r="1.9" fill="#14d093"/>
<circle cx="336.89" cy="164.83" r="1.9" fill="#14d093"/>
<circle cx="338.48" cy="165.04" r="1.9" fill="#14d093"/>
<circle cx="340.06" cy="165.26" r="1.9" fill="#14d093"/>
<circle cx="341.62" cy="165.62" r="1.9" fill="#14d093"/>
<circle cx="343.17" cy="166.03" r="1.9" fill="#14d093"/>
<circle cx="344.65" cy="166.02" r="1.9" fill="#14d093"/>
<circle cx="346.01" cy="165.17" r="1.9" fill="#14d093"/>
<circle cx="346.86" cy="163.94" r="1.9" fill="#14d093"/>
<circle cx="347.32" cy="162.4" r="1.9" fill="#14d093"/>
<circle cx="347.78" cy="160.87" r="1.9" fill="#14d093"/>
<circle cx="348.24" cy="159.34" r="1.9" fill="#14d093"/>
<circle cx="349.6" cy="156.7" r="1.8" fill="#14d093"/>
<circle cx="352.9" cy="151" r="1.8" fill="#14d093"/>
<circle cx="355.3" cy="145.3" r="1.8" fill="#14d093"/>
<circle cx="357.8" cy="138.8" r="1.8" fill="#14d093"/>
<circle cx="361" cy="131.2" r="1.8" fill="#14d093"/>
<circle cx="363.5" cy="123.4" r="1.8" fill="#14d093"/>
<path d="M310.4 192.5 C310.45 191.9 310.27 190.77 310.7 188.9 C311.13 187.03 311.98 183.83 313 181.3 C314.02 178.77 315.27 175.85 316.8 173.7 C318.33 171.55 320.28 169.82 322.2 168.4 C324.12 166.98 326.27 165.9 328.3 165.2 C330.33 164.5 332.38 164.23 334.4 164.2 C336.42 164.17 338.77 164.7 340.4 165 C342.03 165.3 343.17 166.08 344.2 166 C345.23 165.92 345.9 165.75 346.6 164.5 C347.3 163.25 347.77 160.92 348.4 158.5 C349.03 156.08 349.73 152.58 350.4 150 C351.07 147.42 351.58 145.28 352.4 143 C353.22 140.72 354 139.05 355.3 136.3 C356.6 133.55 358.82 129.22 360.2 126.5 C361.58 123.78 362.7 121.75 363.6 120 C364.5 118.25 365.27 116.67 365.6 116" fill="none" stroke="#10c88c" stroke-width="1.4" stroke-linejoin="round" stroke-linecap="round" />
<line x1="396.3" y1="148.9" x2="405.4" y2="148.9" stroke="#2e2e2e" stroke-width="1.15" />
<line x1="418.7" y1="148.9" x2="422.4" y2="148.9" stroke="#2e2e2e" stroke-width="1.15" />
<line x1="422.4" y1="131" x2="422.4" y2="158.5" stroke="#2e2e2e" stroke-width="1.15" />
<line x1="422.4" y1="131" x2="425.6" y2="131" stroke="#2e2e2e" stroke-width="1.15" />
<line x1="429.3" y1="131" x2="511" y2="131" stroke="#2e2e2e" stroke-width="1.15" />
<line x1="427.6" y1="117.4" x2="427.6" y2="189" stroke="#29c4f0" stroke-width="1.8" stroke-dasharray="4.9 2.6"/>
<line x1="513.2" y1="117.4" x2="513.2" y2="189" stroke="#29c4f0" stroke-width="1.8" stroke-dasharray="4.9 2.6"/>
<line x1="425.6" y1="127.3" x2="425.6" y2="135.2" stroke="#2e2e2e" stroke-width="1.15" />
<line x1="429.2" y1="127.3" x2="429.2" y2="135.2" stroke="#2e2e2e" stroke-width="1.15" />
<line x1="422.4" y1="158.5" x2="434.8" y2="158.5" stroke="#2e2e2e" stroke-width="1.15" />
<line x1="447.8" y1="158.5" x2="453.5" y2="158.5" stroke="#2e2e2e" stroke-width="1.15" />
<line x1="453.5" y1="148" x2="453.5" y2="167" stroke="#2e2e2e" stroke-width="1.15" />
<line x1="453.5" y1="148" x2="478.6" y2="148" stroke="#2e2e2e" stroke-width="1.15" />
<line x1="481.6" y1="148" x2="504.6" y2="148" stroke="#2e2e2e" stroke-width="1.15" />
<line x1="478.6" y1="144" x2="478.6" y2="152.3" stroke="#2e2e2e" stroke-width="1.15" />
<line x1="481.6" y1="144" x2="481.6" y2="152.3" stroke="#2e2e2e" stroke-width="1.15" />
<line x1="453.5" y1="167" x2="461.6" y2="167" stroke="#2e2e2e" stroke-width="1.15" />
<line x1="474.7" y1="167" x2="478.4" y2="167" stroke="#2e2e2e" stroke-width="1.15" />
<path d="M478.3 167 L479.6 165.6 L481.3 169.3 L483.1 165.6 L484.9 169.3 L486.7 165.6 L488.5 169.3 L489.6 167" fill="none" stroke="#1e1e1e" stroke-width="1.15" stroke-linejoin="round"/>
<line x1="489.5" y1="167" x2="504.6" y2="167" stroke="#2e2e2e" stroke-width="1.15" />
<line x1="504.6" y1="148" x2="504.6" y2="167" stroke="#2e2e2e" stroke-width="1.15" />
<line x1="504.6" y1="159.2" x2="511" y2="159.2" stroke="#2e2e2e" stroke-width="1.15" />
<line x1="511" y1="131" x2="511" y2="159.2" stroke="#2e2e2e" stroke-width="1.15" />
<line x1="511" y1="148" x2="530.5" y2="148" stroke="#2e2e2e" stroke-width="1.15" />
<rect x="405.4" y="144.6" width="13.3" height="9" fill="#ffff3c" stroke="#8a7a30" stroke-width="0.8"/>
<text x="411.05" y="151.4" font-size="9" text-anchor="middle" fill="#f01010" stroke="#f01010" stroke-width="0.35" font-weight="bold" >R<tspan font-size="5.5" dy="1.5">s</tspan></text>
<rect x="434.8" y="154.2" width="13" height="9" fill="#ffff3c" stroke="#8a7a30" stroke-width="0.8"/>
<text x="440.3" y="161" font-size="9" text-anchor="middle" fill="#f01010" stroke="#f01010" stroke-width="0.35" font-weight="bold" >R<tspan font-size="5.5" dy="1.5">f</tspan></text>
<rect x="461.2" y="162.6" width="13.5" height="9.4" fill="#ffff3c" stroke="#8a7a30" stroke-width="0.8"/>
<text x="466.95" y="169.8" font-size="9" text-anchor="middle" fill="#f01010" stroke="#f01010" stroke-width="0.35" font-weight="bold" >R<tspan font-size="5.5" dy="1.5">ct</tspan></text>
<text x="432.8" y="129.2" font-size="10.2" text-anchor="start" fill="#f41414" stroke="#f41414" stroke-width="0.35" font-weight="bold" >CPE<tspan font-size="6.5" dy="2">1</tspan></text>
<text x="453" y="143.3" font-size="10.2" text-anchor="start" fill="#f41414" stroke="#f41414" stroke-width="0.35" font-weight="bold" >CPE<tspan font-size="6.5" dy="2">2</tspan></text>
<text x="486.5" y="163.6" font-size="10.2" text-anchor="start" fill="#f41414" stroke="#f41414" stroke-width="0.35" font-weight="bold" >W<tspan font-size="6.5" dy="2">d</tspan></text>
<text x="392.8" y="180.4" font-size="8.5" text-anchor="middle" fill="#17b06a" stroke="#17b06a" stroke-width="0.35" font-weight="bold" >NaCl solution</text>
<text x="472.7" y="178.6" font-size="8.5" text-anchor="middle" fill="#17b06a" stroke="#17b06a" stroke-width="0.35" font-weight="bold" >Corrosion production</text>
<text x="471.7" y="189.2" font-size="8.5" text-anchor="middle" fill="#17b06a" stroke="#17b06a" stroke-width="0.35" font-weight="bold" >film</text>
<text x="514.2" y="178.6" font-size="8.5" text-anchor="start" fill="#17b06a" stroke="#17b06a" stroke-width="0.35" font-weight="bold" >NAB</text>
<rect x="38.55" y="244.9" width="226.35" height="182.7" fill="none" stroke="#404040" stroke-width="1.45"/>
<line x1="38.55" y1="411.3" x2="41.55" y2="411.3" stroke="#404040" stroke-width="1" />
<text x="33.55" y="413.9" font-size="7.6" text-anchor="end" fill="#111" stroke="#111" stroke-width="0" font-weight="bold" >0</text>
<line x1="38.55" y1="378.02" x2="41.55" y2="378.02" stroke="#404040" stroke-width="1" />
<text x="33.55" y="380.62" font-size="7.6" text-anchor="end" fill="#111" stroke="#111" stroke-width="0" font-weight="bold" >1000</text>
<line x1="38.55" y1="344.74" x2="41.55" y2="344.74" stroke="#404040" stroke-width="1" />
<text x="33.55" y="347.34" font-size="7.6" text-anchor="end" fill="#111" stroke="#111" stroke-width="0" font-weight="bold" >2000</text>
<line x1="38.55" y1="311.46" x2="41.55" y2="311.46" stroke="#404040" stroke-width="1" />
<text x="33.55" y="314.06" font-size="7.6" text-anchor="end" fill="#111" stroke="#111" stroke-width="0" font-weight="bold" >3000</text>
<line x1="38.55" y1="278.18" x2="41.55" y2="278.18" stroke="#404040" stroke-width="1" />
<text x="33.55" y="280.78" font-size="7.6" text-anchor="end" fill="#111" stroke="#111" stroke-width="0" font-weight="bold" >4000</text>
<text x="33.55" y="247.5" font-size="7.6" text-anchor="end" fill="#111" stroke="#111" stroke-width="0" font-weight="bold" >5000</text>
<line x1="38.55" y1="427.94" x2="40.35" y2="427.94" stroke="#404040" stroke-width="1" />
<line x1="38.55" y1="394.66" x2="40.35" y2="394.66" stroke="#404040" stroke-width="1" />
<line x1="38.55" y1="361.38" x2="40.35" y2="361.38" stroke="#404040" stroke-width="1" />
<line x1="38.55" y1="328.1" x2="40.35" y2="328.1" stroke="#404040" stroke-width="1" />
<line x1="38.55" y1="294.82" x2="40.35" y2="294.82" stroke="#404040" stroke-width="1" />
<line x1="38.55" y1="261.54" x2="40.35" y2="261.54" stroke="#404040" stroke-width="1" />
<text x="38.55" y="438.6" font-size="7.6" text-anchor="middle" fill="#111" stroke="#111" stroke-width="0" font-weight="bold" >0.01</text>
<line x1="48.3" y1="427.6" x2="48.3" y2="426" stroke="#404040" stroke-width="0.8" />
<line x1="54" y1="427.6" x2="54" y2="426" stroke="#404040" stroke-width="0.8" />
<line x1="58.04" y1="427.6" x2="58.04" y2="426" stroke="#404040" stroke-width="0.8" />
<line x1="61.18" y1="427.6" x2="61.18" y2="426" stroke="#404040" stroke-width="0.8" />
<line x1="63.75" y1="427.6" x2="63.75" y2="426" stroke="#404040" stroke-width="0.8" />
<line x1="65.91" y1="427.6" x2="65.91" y2="426" stroke="#404040" stroke-width="0.8" />
<line x1="67.79" y1="427.6" x2="67.79" y2="426" stroke="#404040" stroke-width="0.8" />
<line x1="69.45" y1="427.6" x2="69.45" y2="426" stroke="#404040" stroke-width="0.8" />
<line x1="70.93" y1="427.6" x2="70.93" y2="424.6" stroke="#404040" stroke-width="1" />
<text x="70.93" y="438.6" font-size="7.6" text-anchor="middle" fill="#111" stroke="#111" stroke-width="0" font-weight="bold" >0.1</text>
<line x1="80.68" y1="427.6" x2="80.68" y2="426" stroke="#404040" stroke-width="0.8" />
<line x1="86.38" y1="427.6" x2="86.38" y2="426" stroke="#404040" stroke-width="0.8" />
<line x1="90.42" y1="427.6" x2="90.42" y2="426" stroke="#404040" stroke-width="0.8" />
<line x1="93.56" y1="427.6" x2="93.56" y2="426" stroke="#404040" stroke-width="0.8" />
<line x1="96.13" y1="427.6" x2="96.13" y2="426" stroke="#404040" stroke-width="0.8" />
<line x1="98.29" y1="427.6" x2="98.29" y2="426" stroke="#404040" stroke-width="0.8" />
<line x1="100.17" y1="427.6" x2="100.17" y2="426" stroke="#404040" stroke-width="0.8" />
<line x1="101.83" y1="427.6" x2="101.83" y2="426" stroke="#404040" stroke-width="0.8" />
<line x1="103.31" y1="427.6" x2="103.31" y2="424.6" stroke="#404040" stroke-width="1" />
<text x="103.31" y="438.6" font-size="7.6" text-anchor="middle" fill="#111" stroke="#111" stroke-width="0" font-weight="bold" >1</text>
<line x1="113.06" y1="427.6" x2="113.06" y2="426" stroke="#404040" stroke-width="0.8" />
<line x1="118.76" y1="427.6" x2="118.76" y2="426" stroke="#404040" stroke-width="0.8" />
<line x1="122.8" y1="427.6" x2="122.8" y2="426" stroke="#404040" stroke-width="0.8" />
<line x1="125.94" y1="427.6" x2="125.94" y2="426" stroke="#404040" stroke-width="0.8" />
<line x1="128.51" y1="427.6" x2="128.51" y2="426" stroke="#404040" stroke-width="0.8" />
<line x1="130.67" y1="427.6" x2="130.67" y2="426" stroke="#404040" stroke-width="0.8" />
<line x1="132.55" y1="427.6" x2="132.55" y2="426" stroke="#404040" stroke-width="0.8" />
<line x1="134.21" y1="427.6" x2="134.21" y2="426" stroke="#404040" stroke-width="0.8" />
<line x1="135.69" y1="427.6" x2="135.69" y2="424.6" stroke="#404040" stroke-width="1" />
<text x="135.69" y="438.6" font-size="7.6" text-anchor="middle" fill="#111" stroke="#111" stroke-width="0" font-weight="bold" >10</text>
<line x1="145.44" y1="427.6" x2="145.44" y2="426" stroke="#404040" stroke-width="0.8" />
<line x1="151.14" y1="427.6" x2="151.14" y2="426" stroke="#404040" stroke-width="0.8" />
<line x1="155.18" y1="427.6" x2="155.18" y2="426" stroke="#404040" stroke-width="0.8" />
<line x1="158.32" y1="427.6" x2="158.32" y2="426" stroke="#404040" stroke-width="0.8" />
<line x1="160.89" y1="427.6" x2="160.89" y2="426" stroke="#404040" stroke-width="0.8" />
<line x1="163.05" y1="427.6" x2="163.05" y2="426" stroke="#404040" stroke-width="0.8" />
<line x1="164.93" y1="427.6" x2="164.93" y2="426" stroke="#404040" stroke-width="0.8" />
<line x1="166.59" y1="427.6" x2="166.59" y2="426" stroke="#404040" stroke-width="0.8" />
<line x1="168.07" y1="427.6" x2="168.07" y2="424.6" stroke="#404040" stroke-width="1" />
<text x="168.07" y="438.6" font-size="7.6" text-anchor="middle" fill="#111" stroke="#111" stroke-width="0" font-weight="bold" >100</text>
<line x1="177.82" y1="427.6" x2="177.82" y2="426" stroke="#404040" stroke-width="0.8" />
<line x1="183.52" y1="427.6" x2="183.52" y2="426" stroke="#404040" stroke-width="0.8" />
<line x1="187.56" y1="427.6" x2="187.56" y2="426" stroke="#404040" stroke-width="0.8" />
<line x1="190.7" y1="427.6" x2="190.7" y2="426" stroke="#404040" stroke-width="0.8" />
<line x1="193.27" y1="427.6" x2="193.27" y2="426" stroke="#404040" stroke-width="0.8" />
<line x1="195.43" y1="427.6" x2="195.43" y2="426" stroke="#404040" stroke-width="0.8" />
<line x1="197.31" y1="427.6" x2="197.31" y2="426" stroke="#404040" stroke-width="0.8" />
<line x1="198.97" y1="427.6" x2="198.97" y2="426" stroke="#404040" stroke-width="0.8" />
<line x1="200.45" y1="427.6" x2="200.45" y2="424.6" stroke="#404040" stroke-width="1" />
<text x="200.45" y="438.6" font-size="7.6" text-anchor="middle" fill="#111" stroke="#111" stroke-width="0" font-weight="bold" >1000</text>
<line x1="210.2" y1="427.6" x2="210.2" y2="426" stroke="#404040" stroke-width="0.8" />
<line x1="215.9" y1="427.6" x2="215.9" y2="426" stroke="#404040" stroke-width="0.8" />
<line x1="219.94" y1="427.6" x2="219.94" y2="426" stroke="#404040" stroke-width="0.8" />
<line x1="223.08" y1="427.6" x2="223.08" y2="426" stroke="#404040" stroke-width="0.8" />
<line x1="225.65" y1="427.6" x2="225.65" y2="426" stroke="#404040" stroke-width="0.8" />
<line x1="227.81" y1="427.6" x2="227.81" y2="426" stroke="#404040" stroke-width="0.8" />
<line x1="229.69" y1="427.6" x2="229.69" y2="426" stroke="#404040" stroke-width="0.8" />
<line x1="231.35" y1="427.6" x2="231.35" y2="426" stroke="#404040" stroke-width="0.8" />
<line x1="232.83" y1="427.6" x2="232.83" y2="424.6" stroke="#404040" stroke-width="1" />
<text x="232.83" y="438.6" font-size="7.6" text-anchor="middle" fill="#111" stroke="#111" stroke-width="0" font-weight="bold" >10000</text>
<line x1="242.58" y1="427.6" x2="242.58" y2="426" stroke="#404040" stroke-width="0.8" />
<line x1="248.28" y1="427.6" x2="248.28" y2="426" stroke="#404040" stroke-width="0.8" />
<line x1="252.32" y1="427.6" x2="252.32" y2="426" stroke="#404040" stroke-width="0.8" />
<line x1="255.46" y1="427.6" x2="255.46" y2="426" stroke="#404040" stroke-width="0.8" />
<line x1="258.03" y1="427.6" x2="258.03" y2="426" stroke="#404040" stroke-width="0.8" />
<line x1="260.19" y1="427.6" x2="260.19" y2="426" stroke="#404040" stroke-width="0.8" />
<line x1="262.07" y1="427.6" x2="262.07" y2="426" stroke="#404040" stroke-width="0.8" />
<line x1="263.73" y1="427.6" x2="263.73" y2="426" stroke="#404040" stroke-width="0.8" />
<text x="265.21" y="438.6" font-size="7.6" text-anchor="middle" fill="#111" stroke="#111" stroke-width="0" font-weight="bold" >100000</text>
<text x="143" y="451.6" font-size="9.3" text-anchor="middle" fill="#111" stroke="#111" stroke-width="0.35" font-weight="bold" >Frequency(Hz)</text>
<text x="14.8" y="338.4" font-size="9" text-anchor="middle" fill="#111" stroke="#111" stroke-width="0.35" font-weight="bold" transform="rotate(-90 14.8 338.4)" >|Z| (&#937; cm<tspan font-size="6" dy="-3.5">2</tspan><tspan dy="3.5">)</tspan></text>
<text x="13.2" y="263.3" font-size="12.5" text-anchor="middle" fill="#111" stroke="#111" stroke-width="0.35" font-weight="bold" >(c)</text>
<circle cx="208" cy="259.4" r="1.9" fill="#111"/>
<text x="222.5" y="262.7" font-size="8.3" text-anchor="start" fill="#111" stroke="#111" stroke-width="0.35" font-weight="bold" >S1</text>
<circle cx="208" cy="267.6" r="1.9" fill="#f41c1c"/>
<text x="222.5" y="270.9" font-size="8.3" text-anchor="start" fill="#f41c1c" stroke="#f41c1c" stroke-width="0.35" font-weight="bold" >S2</text>
<circle cx="208" cy="276.6" r="1.9" fill="#1a1aee"/>
<text x="222.5" y="279.9" font-size="8.3" text-anchor="start" fill="#1a1aee" stroke="#1a1aee" stroke-width="0.35" font-weight="bold" >S3</text>
<circle cx="208" cy="284.8" r="1.9" fill="#12cf92"/>
<text x="222.5" y="288.1" font-size="8.3" text-anchor="start" fill="#12cf92" stroke="#12cf92" stroke-width="0.35" font-weight="bold" >S4</text>
<line x1="198.5" y1="293.7" x2="215.9" y2="293.7" stroke="#111" stroke-width="1.5" />
<text x="224.8" y="298" font-size="8.3" text-anchor="start" fill="#111" stroke="#111" stroke-width="0.35" font-weight="bold" >Fitting</text>
<circle cx="39.25" cy="271.3" r="1.8" fill="#111"/>
<circle cx="42.49" cy="275.11" r="1.8" fill="#111"/>
<circle cx="45.73" cy="278.79" r="1.8" fill="#111"/>
<circle cx="48.96" cy="282.29" r="1.8" fill="#111"/>
<circle cx="52.2" cy="285.68" r="1.8" fill="#111"/>
<circle cx="55.44" cy="289.2" r="1.8" fill="#111"/>
<circle cx="58.68" cy="293.14" r="1.8" fill="#111"/>
<circle cx="61.92" cy="297.58" r="1.8" fill="#111"/>
<circle cx="65.15" cy="302.86" r="1.8" fill="#111"/>
<circle cx="68.39" cy="307.89" r="1.8" fill="#111"/>
<circle cx="71.63" cy="313.1" r="1.8" fill="#111"/>
<circle cx="74.87" cy="318.82" r="1.8" fill="#111"/>
<circle cx="78.11" cy="324.41" r="1.8" fill="#111"/>
<circle cx="81.34" cy="330.09" r="1.8" fill="#111"/>
<circle cx="84.58" cy="335.9" r="1.8" fill="#111"/>
<circle cx="87.82" cy="341.88" r="1.8" fill="#111"/>
<circle cx="91.06" cy="349.4" r="1.8" fill="#111"/>
<circle cx="94.3" cy="357.1" r="1.8" fill="#111"/>
<circle cx="97.53" cy="364.27" r="1.8" fill="#111"/>
<circle cx="100.77" cy="370.69" r="1.8" fill="#111"/>
<circle cx="104.01" cy="376.91" r="1.8" fill="#111"/>
<circle cx="107.25" cy="381.27" r="1.8" fill="#111"/>
<circle cx="110.49" cy="385.21" r="1.8" fill="#111"/>
<circle cx="113.72" cy="388.51" r="1.8" fill="#111"/>
<circle cx="116.96" cy="391.05" r="1.8" fill="#111"/>
<circle cx="120.2" cy="393.38" r="1.8" fill="#111"/>
<circle cx="123.44" cy="395.42" r="1.8" fill="#111"/>
<circle cx="126.68" cy="397.33" r="1.8" fill="#111"/>
<circle cx="129.91" cy="399.31" r="1.8" fill="#111"/>
<circle cx="133.15" cy="401.22" r="1.8" fill="#111"/>
<circle cx="136.39" cy="402.81" r="1.8" fill="#111"/>
<circle cx="139.63" cy="404.14" r="1.8" fill="#111"/>
<circle cx="142.87" cy="405.22" r="1.8" fill="#111"/>
<circle cx="146.1" cy="406.19" r="1.8" fill="#111"/>
<circle cx="149.34" cy="407.09" r="1.8" fill="#111"/>
<circle cx="152.58" cy="407.75" r="1.8" fill="#111"/>
<circle cx="155.82" cy="408.29" r="1.8" fill="#111"/>
<circle cx="159.06" cy="408.71" r="1.8" fill="#111"/>
<circle cx="162.29" cy="409.03" r="1.8" fill="#111"/>
<circle cx="165.53" cy="409.33" r="1.8" fill="#111"/>
<circle cx="168.77" cy="409.62" r="1.8" fill="#111"/>
<circle cx="172.01" cy="409.9" r="1.8" fill="#111"/>
<circle cx="175.25" cy="410.13" r="1.8" fill="#111"/>
<circle cx="178.48" cy="410.37" r="1.8" fill="#111"/>
<circle cx="181.72" cy="410.61" r="1.8" fill="#111"/>
<circle cx="184.96" cy="410.85" r="1.8" fill="#111"/>
<circle cx="188.2" cy="411" r="1.8" fill="#111"/>
<circle cx="191.44" cy="411.13" r="1.8" fill="#111"/>
<circle cx="194.67" cy="411.26" r="1.8" fill="#111"/>
<circle cx="197.91" cy="411.39" r="1.8" fill="#111"/>
<circle cx="201.15" cy="411.52" r="1.8" fill="#111"/>
<circle cx="204.39" cy="411.65" r="1.8" fill="#111"/>
<circle cx="207.63" cy="411.73" r="1.8" fill="#111"/>
<circle cx="210.86" cy="411.78" r="1.8" fill="#111"/>
<circle cx="214.1" cy="411.83" r="1.8" fill="#111"/>
<circle cx="217.34" cy="411.89" r="1.8" fill="#111"/>
<circle cx="220.58" cy="411.94" r="1.8" fill="#111"/>
<circle cx="223.82" cy="411.99" r="1.8" fill="#111"/>
<circle cx="227.05" cy="412.04" r="1.8" fill="#111"/>
<circle cx="230.29" cy="412.09" r="1.8" fill="#111"/>
<circle cx="233.53" cy="412.11" r="1.8" fill="#111"/>
<circle cx="236.77" cy="412.12" r="1.8" fill="#111"/>
<circle cx="240.01" cy="412.13" r="1.8" fill="#111"/>
<circle cx="243.24" cy="412.14" r="1.8" fill="#111"/>
<circle cx="246.48" cy="412.15" r="1.8" fill="#111"/>
<circle cx="249.72" cy="412.16" r="1.8" fill="#111"/>
<circle cx="252.96" cy="412.16" r="1.8" fill="#111"/>
<circle cx="256.2" cy="412.17" r="1.8" fill="#111"/>
<circle cx="259.43" cy="412.18" r="1.8" fill="#111"/>
<circle cx="262.67" cy="412.19" r="1.8" fill="#111"/>
<circle cx="265.91" cy="412.2" r="1.8" fill="#111"/>
<path d="M38.6 270.4 C39.37 271.32 41.7 274.18 43.2 275.9 C44.7 277.62 46.15 279.15 47.6 280.7 C49.05 282.25 50.45 283.65 51.9 285.2 C53.35 286.75 54.82 288.2 56.3 290 C57.78 291.8 59.28 293.75 60.8 296 C62.32 298.25 63.9 301.13 65.4 303.5 C66.9 305.87 68.35 307.82 69.8 310.2 C71.25 312.58 72.65 315.27 74.1 317.8 C75.55 320.33 77.05 322.87 78.5 325.4 C79.95 327.93 81.32 330.32 82.8 333 C84.28 335.68 85.95 338.47 87.4 341.5 C88.85 344.53 90.17 348.03 91.5 351.2 C92.83 354.37 94.08 357.62 95.4 360.5 C96.72 363.38 98.08 365.92 99.4 368.5 C100.72 371.08 101.78 373.58 103.3 376 C104.82 378.42 106.77 380.95 108.5 383 C110.23 385.05 111.7 386.6 113.7 388.3 C115.7 390 118.35 391.78 120.5 393.2 C122.65 394.62 124.72 395.67 126.6 396.8 C128.48 397.93 130.02 399.02 131.8 400 C133.58 400.98 135.48 401.95 137.3 402.7 C139.12 403.45 140.88 403.93 142.7 404.5 C144.52 405.07 146.38 405.65 148.2 406.1 C150.02 406.55 151.78 406.9 153.6 407.2 C155.42 407.5 156.37 407.62 159.1 407.9 C161.83 408.18 165.68 408.55 170 408.9 C174.32 409.25 179.17 409.68 185 410 C190.83 410.32 197.5 410.6 205 410.8 C212.5 411 220.08 411.12 230 411.2 C239.92 411.28 258.75 411.28 264.5 411.3" fill="none" stroke="#111" stroke-width="1.3" stroke-linejoin="round" stroke-linecap="round" />
<circle cx="38.55" cy="329.6" r="1.9" fill="#f41c1c"/>
<circle cx="38.55" cy="329.6" r="0.76" fill="#ff9a9a"/>
<circle cx="41.79" cy="334.62" r="1.9" fill="#f41c1c"/>
<circle cx="41.79" cy="334.62" r="0.76" fill="#ff9a9a"/>
<circle cx="45.03" cy="338.17" r="1.9" fill="#f41c1c"/>
<circle cx="45.03" cy="338.17" r="0.76" fill="#ff9a9a"/>
<circle cx="48.26" cy="341.46" r="1.9" fill="#f41c1c"/>
<circle cx="48.26" cy="341.46" r="0.76" fill="#ff9a9a"/>
<circle cx="51.5" cy="344.67" r="1.9" fill="#f41c1c"/>
<circle cx="51.5" cy="344.67" r="0.76" fill="#ff9a9a"/>
<circle cx="54.74" cy="347.84" r="1.9" fill="#f41c1c"/>
<circle cx="54.74" cy="347.84" r="0.76" fill="#ff9a9a"/>
<circle cx="57.98" cy="350.45" r="1.9" fill="#f41c1c"/>
<circle cx="57.98" cy="350.45" r="0.76" fill="#ff9a9a"/>
<circle cx="61.22" cy="353.43" r="1.9" fill="#f41c1c"/>
<circle cx="61.22" cy="353.43" r="0.76" fill="#ff9a9a"/>
<circle cx="64.45" cy="357.35" r="1.9" fill="#f41c1c"/>
<circle cx="64.45" cy="357.35" r="0.76" fill="#ff9a9a"/>
<circle cx="67.69" cy="360.84" r="1.9" fill="#f41c1c"/>
<circle cx="67.69" cy="360.84" r="0.76" fill="#ff9a9a"/>
<circle cx="70.93" cy="364.12" r="1.9" fill="#f41c1c"/>
<circle cx="70.93" cy="364.12" r="0.76" fill="#ff9a9a"/>
<circle cx="74.17" cy="367.3" r="1.9" fill="#f41c1c"/>
<circle cx="74.17" cy="367.3" r="0.76" fill="#ff9a9a"/>
<circle cx="77.41" cy="370.51" r="1.9" fill="#f41c1c"/>
<circle cx="77.41" cy="370.51" r="0.76" fill="#ff9a9a"/>
<circle cx="80.64" cy="373.74" r="1.9" fill="#f41c1c"/>
<circle cx="80.64" cy="373.74" r="0.76" fill="#ff9a9a"/>
<circle cx="83.88" cy="376.98" r="1.9" fill="#f41c1c"/>
<circle cx="83.88" cy="376.98" r="0.76" fill="#ff9a9a"/>
<circle cx="87.12" cy="380.16" r="1.9" fill="#f41c1c"/>
<circle cx="87.12" cy="380.16" r="0.76" fill="#ff9a9a"/>
<circle cx="90.36" cy="383.18" r="1.9" fill="#f41c1c"/>
<circle cx="90.36" cy="383.18" r="0.76" fill="#ff9a9a"/>
<circle cx="93.6" cy="386.18" r="1.9" fill="#f41c1c"/>
<circle cx="93.6" cy="386.18" r="0.76" fill="#ff9a9a"/>
<circle cx="96.83" cy="388.79" r="1.9" fill="#f41c1c"/>
<circle cx="96.83" cy="388.79" r="0.76" fill="#ff9a9a"/>
<circle cx="100.07" cy="391.39" r="1.9" fill="#f41c1c"/>
<circle cx="100.07" cy="391.39" r="0.76" fill="#ff9a9a"/>
<circle cx="103.31" cy="393.55" r="1.9" fill="#f41c1c"/>
<circle cx="103.31" cy="393.55" r="0.76" fill="#ff9a9a"/>
<circle cx="106.55" cy="395.61" r="1.9" fill="#f41c1c"/>
<circle cx="106.55" cy="395.61" r="0.76" fill="#ff9a9a"/>
<circle cx="109.79" cy="397.37" r="1.9" fill="#f41c1c"/>
<circle cx="109.79" cy="397.37" r="0.76" fill="#ff9a9a"/>
<circle cx="113.02" cy="398.94" r="1.9" fill="#f41c1c"/>
<circle cx="113.02" cy="398.94" r="0.76" fill="#ff9a9a"/>
<circle cx="116.26" cy="400.36" r="1.9" fill="#f41c1c"/>
<circle cx="116.26" cy="400.36" r="0.76" fill="#ff9a9a"/>
<circle cx="119.5" cy="401.55" r="1.9" fill="#f41c1c"/>
<circle cx="119.5" cy="401.55" r="0.76" fill="#ff9a9a"/>
<circle cx="122.74" cy="402.52" r="1.9" fill="#f41c1c"/>
<circle cx="122.74" cy="402.52" r="0.76" fill="#ff9a9a"/>
<circle cx="125.98" cy="403.3" r="1.9" fill="#f41c1c"/>
<circle cx="125.98" cy="403.3" r="0.76" fill="#ff9a9a"/>
<circle cx="129.21" cy="404.13" r="1.9" fill="#f41c1c"/>
<circle cx="129.21" cy="404.13" r="0.76" fill="#ff9a9a"/>
<circle cx="132.45" cy="404.91" r="1.9" fill="#f41c1c"/>
<circle cx="132.45" cy="404.91" r="0.76" fill="#ff9a9a"/>
<circle cx="135.69" cy="405.44" r="1.9" fill="#f41c1c"/>
<circle cx="135.69" cy="405.44" r="0.76" fill="#ff9a9a"/>
<circle cx="138.93" cy="405.98" r="1.9" fill="#f41c1c"/>
<circle cx="138.93" cy="405.98" r="0.76" fill="#ff9a9a"/>
<circle cx="142.17" cy="406.51" r="1.9" fill="#f41c1c"/>
<circle cx="142.17" cy="406.51" r="0.76" fill="#ff9a9a"/>
<circle cx="145.4" cy="406.97" r="1.9" fill="#f41c1c"/>
<circle cx="145.4" cy="406.97" r="0.76" fill="#ff9a9a"/>
<circle cx="148.64" cy="407.42" r="1.9" fill="#f41c1c"/>
<circle cx="148.64" cy="407.42" r="0.76" fill="#ff9a9a"/>
<circle cx="151.88" cy="407.86" r="1.9" fill="#f41c1c"/>
<circle cx="151.88" cy="407.86" r="0.76" fill="#ff9a9a"/>
<circle cx="155.12" cy="408.26" r="1.9" fill="#f41c1c"/>
<circle cx="155.12" cy="408.26" r="0.76" fill="#ff9a9a"/>
<circle cx="158.36" cy="408.59" r="1.9" fill="#f41c1c"/>
<circle cx="158.36" cy="408.59" r="0.76" fill="#ff9a9a"/>
<circle cx="161.59" cy="408.93" r="1.9" fill="#f41c1c"/>
<circle cx="161.59" cy="408.93" r="0.76" fill="#ff9a9a"/>
<circle cx="164.83" cy="409.26" r="1.9" fill="#f41c1c"/>
<circle cx="164.83" cy="409.26" r="0.76" fill="#ff9a9a"/>
<circle cx="168.07" cy="409.6" r="1.9" fill="#f41c1c"/>
<circle cx="168.07" cy="409.6" r="0.76" fill="#ff9a9a"/>
<circle cx="171.31" cy="409.86" r="1.9" fill="#f41c1c"/>
<circle cx="171.31" cy="409.86" r="0.76" fill="#ff9a9a"/>
<circle cx="174.55" cy="410" r="1.9" fill="#f41c1c"/>
<circle cx="174.55" cy="410" r="0.76" fill="#ff9a9a"/>
<circle cx="177.78" cy="410.15" r="1.9" fill="#f41c1c"/>
<circle cx="177.78" cy="410.15" r="0.76" fill="#ff9a9a"/>
<circle cx="181.02" cy="410.3" r="1.9" fill="#f41c1c"/>
<circle cx="181.02" cy="410.3" r="0.76" fill="#ff9a9a"/>
<circle cx="184.26" cy="410.44" r="1.9" fill="#f41c1c"/>
<circle cx="184.26" cy="410.44" r="0.76" fill="#ff9a9a"/>
<circle cx="187.5" cy="410.59" r="1.9" fill="#f41c1c"/>
<circle cx="187.5" cy="410.59" r="0.76" fill="#ff9a9a"/>
<circle cx="190.74" cy="410.7" r="1.9" fill="#f41c1c"/>
<circle cx="190.74" cy="410.7" r="0.76" fill="#ff9a9a"/>
<circle cx="193.97" cy="410.73" r="1.9" fill="#f41c1c"/>
<circle cx="193.97" cy="410.73" r="0.76" fill="#ff9a9a"/>
<circle cx="197.21" cy="410.75" r="1.9" fill="#f41c1c"/>
<circle cx="197.21" cy="410.75" r="0.76" fill="#ff9a9a"/>
<circle cx="200.45" cy="410.77" r="1.9" fill="#f41c1c"/>
<circle cx="200.45" cy="410.77" r="0.76" fill="#ff9a9a"/>
<circle cx="203.69" cy="410.79" r="1.9" fill="#f41c1c"/>
<circle cx="203.69" cy="410.79" r="0.76" fill="#ff9a9a"/>
<circle cx="206.93" cy="410.81" r="1.9" fill="#f41c1c"/>
<circle cx="206.93" cy="410.81" r="0.76" fill="#ff9a9a"/>
<circle cx="210.16" cy="410.84" r="1.9" fill="#f41c1c"/>
<circle cx="210.16" cy="410.84" r="0.76" fill="#ff9a9a"/>
<circle cx="213.4" cy="410.86" r="1.9" fill="#f41c1c"/>
<circle cx="213.4" cy="410.86" r="0.76" fill="#ff9a9a"/>
<circle cx="216.64" cy="410.88" r="1.9" fill="#f41c1c"/>
<circle cx="216.64" cy="410.88" r="0.76" fill="#ff9a9a"/>
<circle cx="219.88" cy="410.9" r="1.9" fill="#f41c1c"/>
<circle cx="219.88" cy="410.9" r="0.76" fill="#ff9a9a"/>
<circle cx="223.12" cy="410.92" r="1.9" fill="#f41c1c"/>
<circle cx="223.12" cy="410.92" r="0.76" fill="#ff9a9a"/>
<circle cx="226.35" cy="410.94" r="1.9" fill="#f41c1c"/>
<circle cx="226.35" cy="410.94" r="0.76" fill="#ff9a9a"/>
<circle cx="229.59" cy="410.97" r="1.9" fill="#f41c1c"/>
<circle cx="229.59" cy="410.97" r="0.76" fill="#ff9a9a"/>
<circle cx="232.83" cy="410.99" r="1.9" fill="#f41c1c"/>
<circle cx="232.83" cy="410.99" r="0.76" fill="#ff9a9a"/>
<circle cx="236.07" cy="411.01" r="1.9" fill="#f41c1c"/>
<circle cx="236.07" cy="411.01" r="0.76" fill="#ff9a9a"/>
<circle cx="239.31" cy="411.03" r="1.9" fill="#f41c1c"/>
<circle cx="239.31" cy="411.03" r="0.76" fill="#ff9a9a"/>
<circle cx="242.54" cy="411.05" r="1.9" fill="#f41c1c"/>
<circle cx="242.54" cy="411.05" r="0.76" fill="#ff9a9a"/>
<circle cx="245.78" cy="411.07" r="1.9" fill="#f41c1c"/>
<circle cx="245.78" cy="411.07" r="0.76" fill="#ff9a9a"/>
<circle cx="249.02" cy="411.1" r="1.9" fill="#f41c1c"/>
<circle cx="249.02" cy="411.1" r="0.76" fill="#ff9a9a"/>
<circle cx="252.26" cy="411.12" r="1.9" fill="#f41c1c"/>
<circle cx="252.26" cy="411.12" r="0.76" fill="#ff9a9a"/>
<circle cx="255.5" cy="411.14" r="1.9" fill="#f41c1c"/>
<circle cx="255.5" cy="411.14" r="0.76" fill="#ff9a9a"/>
<circle cx="258.73" cy="411.16" r="1.9" fill="#f41c1c"/>
<circle cx="258.73" cy="411.16" r="0.76" fill="#ff9a9a"/>
<circle cx="261.97" cy="411.18" r="1.9" fill="#f41c1c"/>
<circle cx="261.97" cy="411.18" r="0.76" fill="#ff9a9a"/>
<circle cx="265.21" cy="411.2" r="1.9" fill="#f41c1c"/>
<circle cx="265.21" cy="411.2" r="0.76" fill="#ff9a9a"/>
<path d="M38.6 330 C39.15 330.87 40.7 333.63 41.9 335.2 C43.1 336.77 44.5 338.05 45.8 339.4 C47.1 340.75 48.17 341.78 49.7 343.3 C51.23 344.82 53.25 346.95 55 348.5 C56.75 350.05 58.47 350.87 60.2 352.6 C61.93 354.33 63.67 356.97 65.4 358.9 C67.13 360.83 68.85 362.45 70.6 364.2 C72.35 365.95 74.15 367.67 75.9 369.4 C77.65 371.13 79.37 372.87 81.1 374.6 C82.83 376.33 84.23 377.82 86.3 379.8 C88.37 381.78 91.1 384.42 93.5 386.5 C95.9 388.58 98.32 390.58 100.7 392.3 C103.08 394.02 105.42 395.47 107.8 396.8 C110.18 398.13 112.8 399.35 115 400.3 C117.2 401.25 119.1 401.92 121 402.5 C122.9 403.08 124.6 403.35 126.4 403.8 C128.2 404.25 129.08 404.67 131.8 405.2 C134.52 405.73 139.07 406.45 142.7 407 C146.33 407.55 149.05 407.97 153.6 408.5 C158.15 409.03 163.93 409.77 170 410.2 C176.07 410.63 174.25 410.87 190 411.1 C205.75 411.33 252.08 411.52 264.5 411.6" fill="none" stroke="#f41c1c" stroke-width="1.2" stroke-linejoin="round" stroke-linecap="round" />
<circle cx="38.55" cy="344.6" r="1.9" fill="#1a1aee"/>
<circle cx="41.79" cy="348.56" r="1.9" fill="#1a1aee"/>
<circle cx="45.03" cy="353.91" r="1.9" fill="#1a1aee"/>
<circle cx="48.26" cy="357.66" r="1.9" fill="#1a1aee"/>
<circle cx="51.5" cy="360.46" r="1.9" fill="#1a1aee"/>
<circle cx="54.74" cy="362.9" r="1.9" fill="#1a1aee"/>
<circle cx="57.98" cy="365.33" r="1.9" fill="#1a1aee"/>
<circle cx="61.22" cy="367.76" r="1.9" fill="#1a1aee"/>
<circle cx="64.45" cy="370.19" r="1.9" fill="#1a1aee"/>
<circle cx="67.69" cy="372.05" r="1.9" fill="#1a1aee"/>
<circle cx="70.93" cy="373.66" r="1.9" fill="#1a1aee"/>
<circle cx="74.17" cy="375.25" r="1.9" fill="#1a1aee"/>
<circle cx="77.41" cy="376.85" r="1.9" fill="#1a1aee"/>
<circle cx="80.64" cy="378.47" r="1.9" fill="#1a1aee"/>
<circle cx="83.88" cy="380.2" r="1.9" fill="#1a1aee"/>
<circle cx="87.12" cy="381.99" r="1.9" fill="#1a1aee"/>
<circle cx="90.36" cy="383.92" r="1.9" fill="#1a1aee"/>
<circle cx="93.6" cy="385.84" r="1.9" fill="#1a1aee"/>
<circle cx="96.83" cy="387.75" r="1.9" fill="#1a1aee"/>
<circle cx="100.07" cy="389.68" r="1.9" fill="#1a1aee"/>
<circle cx="103.31" cy="391.63" r="1.9" fill="#1a1aee"/>
<circle cx="106.55" cy="393.57" r="1.9" fill="#1a1aee"/>
<circle cx="109.79" cy="395.51" r="1.9" fill="#1a1aee"/>
<circle cx="113.02" cy="397.26" r="1.9" fill="#1a1aee"/>
<circle cx="116.26" cy="398.88" r="1.9" fill="#1a1aee"/>
<circle cx="119.5" cy="400.33" r="1.9" fill="#1a1aee"/>
<circle cx="122.74" cy="401.64" r="1.9" fill="#1a1aee"/>
<circle cx="125.98" cy="402.84" r="1.9" fill="#1a1aee"/>
<circle cx="129.21" cy="403.83" r="1.9" fill="#1a1aee"/>
<circle cx="132.45" cy="404.74" r="1.9" fill="#1a1aee"/>
<circle cx="135.69" cy="405.46" r="1.9" fill="#1a1aee"/>
<circle cx="138.93" cy="406.17" r="1.9" fill="#1a1aee"/>
<circle cx="142.17" cy="406.88" r="1.9" fill="#1a1aee"/>
<circle cx="145.4" cy="407.45" r="1.9" fill="#1a1aee"/>
<circle cx="148.64" cy="407.98" r="1.9" fill="#1a1aee"/>
<circle cx="151.88" cy="408.52" r="1.9" fill="#1a1aee"/>
<circle cx="155.12" cy="408.95" r="1.9" fill="#1a1aee"/>
<circle cx="158.36" cy="409.26" r="1.9" fill="#1a1aee"/>
<circle cx="161.59" cy="409.58" r="1.9" fill="#1a1aee"/>
<circle cx="164.83" cy="409.9" r="1.9" fill="#1a1aee"/>
<circle cx="168.07" cy="410.21" r="1.9" fill="#1a1aee"/>
<circle cx="171.31" cy="410.45" r="1.9" fill="#1a1aee"/>
<circle cx="174.55" cy="410.58" r="1.9" fill="#1a1aee"/>
<circle cx="177.78" cy="410.71" r="1.9" fill="#1a1aee"/>
<circle cx="181.02" cy="410.84" r="1.9" fill="#1a1aee"/>
<circle cx="184.26" cy="410.97" r="1.9" fill="#1a1aee"/>
<circle cx="187.5" cy="411.1" r="1.9" fill="#1a1aee"/>
<circle cx="190.74" cy="411.2" r="1.9" fill="#1a1aee"/>
<circle cx="193.97" cy="411.22" r="1.9" fill="#1a1aee"/>
<circle cx="197.21" cy="411.23" r="1.9" fill="#1a1aee"/>
<circle cx="200.45" cy="411.24" r="1.9" fill="#1a1aee"/>
<circle cx="203.69" cy="411.26" r="1.9" fill="#1a1aee"/>
<circle cx="206.93" cy="411.27" r="1.9" fill="#1a1aee"/>
<circle cx="210.16" cy="411.28" r="1.9" fill="#1a1aee"/>
<circle cx="213.4" cy="411.29" r="1.9" fill="#1a1aee"/>
<circle cx="216.64" cy="411.31" r="1.9" fill="#1a1aee"/>
<circle cx="219.88" cy="411.32" r="1.9" fill="#1a1aee"/>
<circle cx="223.12" cy="411.33" r="1.9" fill="#1a1aee"/>
<circle cx="226.35" cy="411.35" r="1.9" fill="#1a1aee"/>
<circle cx="229.59" cy="411.36" r="1.9" fill="#1a1aee"/>
<circle cx="232.83" cy="411.37" r="1.9" fill="#1a1aee"/>
<circle cx="236.07" cy="411.39" r="1.9" fill="#1a1aee"/>
<circle cx="239.31" cy="411.4" r="1.9" fill="#1a1aee"/>
<circle cx="242.54" cy="411.41" r="1.9" fill="#1a1aee"/>
<circle cx="245.78" cy="411.42" r="1.9" fill="#1a1aee"/>
<circle cx="249.02" cy="411.44" r="1.9" fill="#1a1aee"/>
<circle cx="252.26" cy="411.45" r="1.9" fill="#1a1aee"/>
<circle cx="255.5" cy="411.46" r="1.9" fill="#1a1aee"/>
<circle cx="258.73" cy="411.48" r="1.9" fill="#1a1aee"/>
<circle cx="261.97" cy="411.49" r="1.9" fill="#1a1aee"/>
<circle cx="265.21" cy="411.5" r="1.9" fill="#1a1aee"/>
<path d="M38.6 344.4 C39.15 345.08 40.7 346.73 41.9 348.5 C43.1 350.27 44.5 353.27 45.8 355 C47.1 356.73 48.17 357.58 49.7 358.9 C51.23 360.22 53.25 361.58 55 362.9 C56.75 364.22 58.47 365.5 60.2 366.8 C61.93 368.1 63.67 369.62 65.4 370.7 C67.13 371.78 68.85 372.43 70.6 373.3 C72.35 374.17 74.15 375.03 75.9 375.9 C77.65 376.77 79.37 377.6 81.1 378.5 C82.83 379.4 84.57 380.32 86.3 381.3 C88.03 382.28 89.53 383.23 91.5 384.4 C93.47 385.57 95.92 387 98.1 388.3 C100.28 389.6 102.43 390.9 104.6 392.2 C106.77 393.5 109.15 395.02 111.1 396.1 C113.05 397.18 114.65 397.92 116.3 398.7 C117.95 399.48 119.32 400.12 121 400.8 C122.68 401.48 124.6 402.2 126.4 402.8 C128.2 403.4 129.08 403.73 131.8 404.4 C134.52 405.07 139.07 406.1 142.7 406.8 C146.33 407.5 149.05 408.03 153.6 408.6 C158.15 409.17 163.93 409.8 170 410.2 C176.07 410.6 174.25 410.82 190 411 C205.75 411.18 252.08 411.25 264.5 411.3" fill="none" stroke="#1a1aee" stroke-width="1.2" stroke-linejoin="round" stroke-linecap="round" />
<circle cx="38.55" cy="355.41" r="2.15" fill="#12cf92"/>
<circle cx="41.79" cy="360.07" r="2.15" fill="#12cf92"/>
<circle cx="45.03" cy="363.34" r="2.15" fill="#12cf92"/>
<circle cx="48.26" cy="365.74" r="2.15" fill="#12cf92"/>
<circle cx="51.5" cy="368.2" r="2.15" fill="#12cf92"/>
<circle cx="54.74" cy="370.93" r="2.15" fill="#12cf92"/>
<circle cx="57.98" cy="373.82" r="2.15" fill="#12cf92"/>
<circle cx="61.22" cy="376.67" r="2.15" fill="#12cf92"/>
<circle cx="64.45" cy="379.38" r="2.15" fill="#12cf92"/>
<circle cx="67.69" cy="381.42" r="2.15" fill="#12cf92"/>
<circle cx="70.93" cy="383.12" r="2.15" fill="#12cf92"/>
<circle cx="74.17" cy="384.35" r="2.15" fill="#12cf92"/>
<circle cx="77.41" cy="385.67" r="2.15" fill="#12cf92"/>
<circle cx="80.64" cy="387.1" r="2.15" fill="#12cf92"/>
<circle cx="83.88" cy="388.16" r="2.15" fill="#12cf92"/>
<circle cx="87.12" cy="389.28" r="2.15" fill="#12cf92"/>
<circle cx="90.36" cy="390.48" r="2.15" fill="#12cf92"/>
<circle cx="93.6" cy="391.73" r="2.15" fill="#12cf92"/>
<circle cx="96.83" cy="393" r="2.15" fill="#12cf92"/>
<circle cx="100.07" cy="394.29" r="2.15" fill="#12cf92"/>
<circle cx="103.31" cy="395.58" r="2.15" fill="#12cf92"/>
<circle cx="106.55" cy="397.28" r="2.15" fill="#12cf92"/>
<circle cx="109.79" cy="399.25" r="2.15" fill="#12cf92"/>
<circle cx="113.02" cy="400.83" r="2.15" fill="#12cf92"/>
<circle cx="116.26" cy="402.25" r="2.15" fill="#12cf92"/>
<circle cx="119.5" cy="403.33" r="2.15" fill="#12cf92"/>
<circle cx="122.74" cy="404.33" r="2.15" fill="#12cf92"/>
<circle cx="125.98" cy="405.28" r="2.15" fill="#12cf92"/>
<circle cx="129.21" cy="406.03" r="2.15" fill="#12cf92"/>
<circle cx="132.45" cy="406.71" r="2.15" fill="#12cf92"/>
<circle cx="135.69" cy="407.28" r="2.15" fill="#12cf92"/>
<circle cx="138.93" cy="407.84" r="2.15" fill="#12cf92"/>
<circle cx="142.17" cy="408.41" r="2.15" fill="#12cf92"/>
<circle cx="145.4" cy="408.85" r="2.15" fill="#12cf92"/>
<circle cx="148.64" cy="409.26" r="2.15" fill="#12cf92"/>
<circle cx="151.88" cy="409.68" r="2.15" fill="#12cf92"/>
<circle cx="155.12" cy="410" r="2.15" fill="#12cf92"/>
<circle cx="158.36" cy="410.22" r="2.15" fill="#12cf92"/>
<circle cx="161.59" cy="410.44" r="2.15" fill="#12cf92"/>
<circle cx="164.83" cy="410.65" r="2.15" fill="#12cf92"/>
<circle cx="168.07" cy="410.87" r="2.15" fill="#12cf92"/>
<circle cx="171.31" cy="411.03" r="2.15" fill="#12cf92"/>
<circle cx="174.55" cy="411.09" r="2.15" fill="#12cf92"/>
<circle cx="177.78" cy="411.16" r="2.15" fill="#12cf92"/>
<circle cx="181.02" cy="411.22" r="2.15" fill="#12cf92"/>
<circle cx="184.26" cy="411.29" r="2.15" fill="#12cf92"/>
<circle cx="187.5" cy="411.35" r="2.15" fill="#12cf92"/>
<circle cx="190.74" cy="411.4" r="2.15" fill="#12cf92"/>
<circle cx="193.97" cy="411.41" r="2.15" fill="#12cf92"/>
<circle cx="197.21" cy="411.41" r="2.15" fill="#12cf92"/>
<circle cx="200.45" cy="411.41" r="2.15" fill="#12cf92"/>
<circle cx="203.69" cy="411.42" r="2.15" fill="#12cf92"/>
<circle cx="206.93" cy="411.42" r="2.15" fill="#12cf92"/>
<circle cx="210.16" cy="411.43" r="2.15" fill="#12cf92"/>
<circle cx="213.4" cy="411.43" r="2.15" fill="#12cf92"/>
<circle cx="216.64" cy="411.44" r="2.15" fill="#12cf92"/>
<circle cx="219.88" cy="411.44" r="2.15" fill="#12cf92"/>
<circle cx="223.12" cy="411.44" r="2.15" fill="#12cf92"/>
<circle cx="226.35" cy="411.45" r="2.15" fill="#12cf92"/>
<circle cx="229.59" cy="411.45" r="2.15" fill="#12cf92"/>
<circle cx="232.83" cy="411.46" r="2.15" fill="#12cf92"/>
<circle cx="236.07" cy="411.46" r="2.15" fill="#12cf92"/>
<circle cx="239.31" cy="411.47" r="2.15" fill="#12cf92"/>
<circle cx="242.54" cy="411.47" r="2.15" fill="#12cf92"/>
<circle cx="245.78" cy="411.47" r="2.15" fill="#12cf92"/>
<circle cx="249.02" cy="411.48" r="2.15" fill="#12cf92"/>
<circle cx="252.26" cy="411.48" r="2.15" fill="#12cf92"/>
<circle cx="255.5" cy="411.49" r="2.15" fill="#12cf92"/>
<circle cx="258.73" cy="411.49" r="2.15" fill="#12cf92"/>
<circle cx="261.97" cy="411.5" r="2.15" fill="#12cf92"/>
<circle cx="265.21" cy="411.5" r="2.15" fill="#12cf92"/>
<path d="M38.6 357.6 C39.15 358.37 40.7 360.83 41.9 362.2 C43.1 363.57 44.5 364.82 45.8 365.8 C47.1 366.78 48.17 367.03 49.7 368.1 C51.23 369.17 53.25 370.8 55 372.2 C56.75 373.6 58.47 375.12 60.2 376.5 C61.93 377.88 63.67 379.42 65.4 380.5 C67.13 381.58 68.85 382.25 70.6 383 C72.35 383.75 74.15 384.28 75.9 385 C77.65 385.72 79.58 386.72 81.1 387.3 C82.62 387.88 83.27 387.9 85 388.5 C86.73 389.1 89.32 390.07 91.5 390.9 C93.68 391.73 95.92 392.63 98.1 393.5 C100.28 394.37 102.58 395.1 104.6 396.1 C106.62 397.1 108.38 398.52 110.2 399.5 C112.02 400.48 113.72 401.28 115.5 402 C117.28 402.72 119.08 403.23 120.9 403.8 C122.72 404.37 124.58 404.93 126.4 405.4 C128.22 405.87 129.08 406.08 131.8 406.6 C134.52 407.12 139.07 407.95 142.7 408.5 C146.33 409.05 149.05 409.48 153.6 409.9 C158.15 410.32 163.93 410.75 170 411 C176.07 411.25 174.25 411.32 190 411.4 C205.75 411.48 252.08 411.48 264.5 411.5" fill="none" stroke="#10c88c" stroke-width="1.2" stroke-linejoin="round" stroke-linecap="round" />
<rect x="309.6" y="245.2" width="226.5" height="182.4" fill="none" stroke="#404040" stroke-width="1.45"/>
<line x1="309.6" y1="415.7" x2="312.6" y2="415.7" stroke="#404040" stroke-width="1" />
<text x="305" y="418.3" font-size="7.6" text-anchor="end" fill="#111" stroke="#111" stroke-width="0" font-weight="bold" >0</text>
<line x1="309.6" y1="391.35" x2="312.6" y2="391.35" stroke="#404040" stroke-width="1" />
<text x="305" y="393.95" font-size="7.6" text-anchor="end" fill="#111" stroke="#111" stroke-width="0" font-weight="bold" >10</text>
<line x1="309.6" y1="367" x2="312.6" y2="367" stroke="#404040" stroke-width="1" />
<text x="305" y="369.6" font-size="7.6" text-anchor="end" fill="#111" stroke="#111" stroke-width="0" font-weight="bold" >20</text>
<line x1="309.6" y1="342.65" x2="312.6" y2="342.65" stroke="#404040" stroke-width="1" />
<text x="305" y="345.25" font-size="7.6" text-anchor="end" fill="#111" stroke="#111" stroke-width="0" font-weight="bold" >30</text>
<line x1="309.6" y1="318.3" x2="312.6" y2="318.3" stroke="#404040" stroke-width="1" />
<text x="305" y="320.9" font-size="7.6" text-anchor="end" fill="#111" stroke="#111" stroke-width="0" font-weight="bold" >40</text>
<line x1="309.6" y1="293.95" x2="312.6" y2="293.95" stroke="#404040" stroke-width="1" />
<text x="305" y="296.55" font-size="7.6" text-anchor="end" fill="#111" stroke="#111" stroke-width="0" font-weight="bold" >50</text>
<line x1="309.6" y1="269.6" x2="312.6" y2="269.6" stroke="#404040" stroke-width="1" />
<text x="305" y="272.2" font-size="7.6" text-anchor="end" fill="#111" stroke="#111" stroke-width="0" font-weight="bold" >60</text>
<text x="305" y="247.85" font-size="7.6" text-anchor="end" fill="#111" stroke="#111" stroke-width="0" font-weight="bold" >70</text>
<line x1="309.6" y1="427.88" x2="311.4" y2="427.88" stroke="#404040" stroke-width="1" />
<line x1="309.6" y1="403.52" x2="311.4" y2="403.52" stroke="#404040" stroke-width="1" />
<line x1="309.6" y1="379.18" x2="311.4" y2="379.18" stroke="#404040" stroke-width="1" />
<line x1="309.6" y1="354.82" x2="311.4" y2="354.82" stroke="#404040" stroke-width="1" />
<line x1="309.6" y1="330.47" x2="311.4" y2="330.47" stroke="#404040" stroke-width="1" />
<line x1="309.6" y1="306.12" x2="311.4" y2="306.12" stroke="#404040" stroke-width="1" />
<line x1="309.6" y1="281.77" x2="311.4" y2="281.77" stroke="#404040" stroke-width="1" />
<line x1="309.6" y1="257.42" x2="311.4" y2="257.42" stroke="#404040" stroke-width="1" />
<text x="309.6" y="438.6" font-size="7.6" text-anchor="middle" fill="#111" stroke="#111" stroke-width="0" font-weight="bold" >0.01</text>
<line x1="319.34" y1="427.6" x2="319.34" y2="426" stroke="#404040" stroke-width="0.8" />
<line x1="325.04" y1="427.6" x2="325.04" y2="426" stroke="#404040" stroke-width="0.8" />
<line x1="329.08" y1="427.6" x2="329.08" y2="426" stroke="#404040" stroke-width="0.8" />
<line x1="332.22" y1="427.6" x2="332.22" y2="426" stroke="#404040" stroke-width="0.8" />
<line x1="334.78" y1="427.6" x2="334.78" y2="426" stroke="#404040" stroke-width="0.8" />
<line x1="336.95" y1="427.6" x2="336.95" y2="426" stroke="#404040" stroke-width="0.8" />
<line x1="338.82" y1="427.6" x2="338.82" y2="426" stroke="#404040" stroke-width="0.8" />
<line x1="340.48" y1="427.6" x2="340.48" y2="426" stroke="#404040" stroke-width="0.8" />
<line x1="341.96" y1="427.6" x2="341.96" y2="424.6" stroke="#404040" stroke-width="1" />
<text x="341.96" y="438.6" font-size="7.6" text-anchor="middle" fill="#111" stroke="#111" stroke-width="0" font-weight="bold" >0.1</text>
<line x1="351.7" y1="427.6" x2="351.7" y2="426" stroke="#404040" stroke-width="0.8" />
<line x1="357.4" y1="427.6" x2="357.4" y2="426" stroke="#404040" stroke-width="0.8" />
<line x1="361.44" y1="427.6" x2="361.44" y2="426" stroke="#404040" stroke-width="0.8" />
<line x1="364.58" y1="427.6" x2="364.58" y2="426" stroke="#404040" stroke-width="0.8" />
<line x1="367.14" y1="427.6" x2="367.14" y2="426" stroke="#404040" stroke-width="0.8" />
<line x1="369.31" y1="427.6" x2="369.31" y2="426" stroke="#404040" stroke-width="0.8" />
<line x1="371.18" y1="427.6" x2="371.18" y2="426" stroke="#404040" stroke-width="0.8" />
<line x1="372.84" y1="427.6" x2="372.84" y2="426" stroke="#404040" stroke-width="0.8" />
<line x1="374.32" y1="427.6" x2="374.32" y2="424.6" stroke="#404040" stroke-width="1" />
<text x="374.32" y="438.6" font-size="7.6" text-anchor="middle" fill="#111" stroke="#111" stroke-width="0" font-weight="bold" >1</text>
<line x1="384.06" y1="427.6" x2="384.06" y2="426" stroke="#404040" stroke-width="0.8" />
<line x1="389.76" y1="427.6" x2="389.76" y2="426" stroke="#404040" stroke-width="0.8" />
<line x1="393.8" y1="427.6" x2="393.8" y2="426" stroke="#404040" stroke-width="0.8" />
<line x1="396.94" y1="427.6" x2="396.94" y2="426" stroke="#404040" stroke-width="0.8" />
<line x1="399.5" y1="427.6" x2="399.5" y2="426" stroke="#404040" stroke-width="0.8" />
<line x1="401.67" y1="427.6" x2="401.67" y2="426" stroke="#404040" stroke-width="0.8" />
<line x1="403.54" y1="427.6" x2="403.54" y2="426" stroke="#404040" stroke-width="0.8" />
<line x1="405.2" y1="427.6" x2="405.2" y2="426" stroke="#404040" stroke-width="0.8" />
<line x1="406.68" y1="427.6" x2="406.68" y2="424.6" stroke="#404040" stroke-width="1" />
<text x="406.68" y="438.6" font-size="7.6" text-anchor="middle" fill="#111" stroke="#111" stroke-width="0" font-weight="bold" >10</text>
<line x1="416.42" y1="427.6" x2="416.42" y2="426" stroke="#404040" stroke-width="0.8" />
<line x1="422.12" y1="427.6" x2="422.12" y2="426" stroke="#404040" stroke-width="0.8" />
<line x1="426.16" y1="427.6" x2="426.16" y2="426" stroke="#404040" stroke-width="0.8" />
<line x1="429.3" y1="427.6" x2="429.3" y2="426" stroke="#404040" stroke-width="0.8" />
<line x1="431.86" y1="427.6" x2="431.86" y2="426" stroke="#404040" stroke-width="0.8" />
<line x1="434.03" y1="427.6" x2="434.03" y2="426" stroke="#404040" stroke-width="0.8" />
<line x1="435.9" y1="427.6" x2="435.9" y2="426" stroke="#404040" stroke-width="0.8" />
<line x1="437.56" y1="427.6" x2="437.56" y2="426" stroke="#404040" stroke-width="0.8" />
<line x1="439.04" y1="427.6" x2="439.04" y2="424.6" stroke="#404040" stroke-width="1" />
<text x="439.04" y="438.6" font-size="7.6" text-anchor="middle" fill="#111" stroke="#111" stroke-width="0" font-weight="bold" >100</text>
<line x1="448.78" y1="427.6" x2="448.78" y2="426" stroke="#404040" stroke-width="0.8" />
<line x1="454.48" y1="427.6" x2="454.48" y2="426" stroke="#404040" stroke-width="0.8" />
<line x1="458.52" y1="427.6" x2="458.52" y2="426" stroke="#404040" stroke-width="0.8" />
<line x1="461.66" y1="427.6" x2="461.66" y2="426" stroke="#404040" stroke-width="0.8" />
<line x1="464.22" y1="427.6" x2="464.22" y2="426" stroke="#404040" stroke-width="0.8" />
<line x1="466.39" y1="427.6" x2="466.39" y2="426" stroke="#404040" stroke-width="0.8" />
<line x1="468.26" y1="427.6" x2="468.26" y2="426" stroke="#404040" stroke-width="0.8" />
<line x1="469.92" y1="427.6" x2="469.92" y2="426" stroke="#404040" stroke-width="0.8" />
<line x1="471.4" y1="427.6" x2="471.4" y2="424.6" stroke="#404040" stroke-width="1" />
<text x="471.4" y="438.6" font-size="7.6" text-anchor="middle" fill="#111" stroke="#111" stroke-width="0" font-weight="bold" >1000</text>
<line x1="481.14" y1="427.6" x2="481.14" y2="426" stroke="#404040" stroke-width="0.8" />
<line x1="486.84" y1="427.6" x2="486.84" y2="426" stroke="#404040" stroke-width="0.8" />
<line x1="490.88" y1="427.6" x2="490.88" y2="426" stroke="#404040" stroke-width="0.8" />
<line x1="494.02" y1="427.6" x2="494.02" y2="426" stroke="#404040" stroke-width="0.8" />
<line x1="496.58" y1="427.6" x2="496.58" y2="426" stroke="#404040" stroke-width="0.8" />
<line x1="498.75" y1="427.6" x2="498.75" y2="426" stroke="#404040" stroke-width="0.8" />
<line x1="500.62" y1="427.6" x2="500.62" y2="426" stroke="#404040" stroke-width="0.8" />
<line x1="502.28" y1="427.6" x2="502.28" y2="426" stroke="#404040" stroke-width="0.8" />
<line x1="503.76" y1="427.6" x2="503.76" y2="424.6" stroke="#404040" stroke-width="1" />
<text x="503.76" y="438.6" font-size="7.6" text-anchor="middle" fill="#111" stroke="#111" stroke-width="0" font-weight="bold" >10000</text>
<line x1="513.5" y1="427.6" x2="513.5" y2="426" stroke="#404040" stroke-width="0.8" />
<line x1="519.2" y1="427.6" x2="519.2" y2="426" stroke="#404040" stroke-width="0.8" />
<line x1="523.24" y1="427.6" x2="523.24" y2="426" stroke="#404040" stroke-width="0.8" />
<line x1="526.38" y1="427.6" x2="526.38" y2="426" stroke="#404040" stroke-width="0.8" />
<line x1="528.94" y1="427.6" x2="528.94" y2="426" stroke="#404040" stroke-width="0.8" />
<line x1="531.11" y1="427.6" x2="531.11" y2="426" stroke="#404040" stroke-width="0.8" />
<line x1="532.98" y1="427.6" x2="532.98" y2="426" stroke="#404040" stroke-width="0.8" />
<line x1="534.64" y1="427.6" x2="534.64" y2="426" stroke="#404040" stroke-width="0.8" />
<text x="536.12" y="438.6" font-size="7.6" text-anchor="middle" fill="#111" stroke="#111" stroke-width="0" font-weight="bold" >100000</text>
<text x="429.3" y="451.5" font-size="9.3" text-anchor="middle" fill="#111" stroke="#111" stroke-width="0.35" font-weight="bold" >Frequency(Hz)</text>
<text x="279.8" y="338.1" font-size="9.45" text-anchor="middle" fill="#111" stroke="#111" stroke-width="0.35" font-weight="bold" transform="rotate(-90 279.8 338.1)" >-Phase angle (degree)</text>
<text x="290.5" y="263.3" font-size="12.5" text-anchor="middle" fill="#111" stroke="#111" stroke-width="0.35" font-weight="bold" >(d)</text>
<circle cx="485" cy="262.2" r="1.9" fill="#111"/>
<text x="499.5" y="265.5" font-size="8.3" text-anchor="start" fill="#111" stroke="#111" stroke-width="0.35" font-weight="bold" >S1</text>
<circle cx="485" cy="270.5" r="1.9" fill="#f41c1c"/>
<text x="499.5" y="273.8" font-size="8.3" text-anchor="start" fill="#f41c1c" stroke="#f41c1c" stroke-width="0.35" font-weight="bold" >S2</text>
<circle cx="485" cy="279.2" r="1.9" fill="#1a1aee"/>
<text x="499.5" y="282.5" font-size="8.3" text-anchor="start" fill="#1a1aee" stroke="#1a1aee" stroke-width="0.35" font-weight="bold" >S3</text>
<circle cx="485" cy="287.5" r="1.9" fill="#12cf92"/>
<text x="499.5" y="290.8" font-size="8.3" text-anchor="start" fill="#12cf92" stroke="#12cf92" stroke-width="0.35" font-weight="bold" >S4</text>
<line x1="475.3" y1="295.9" x2="492.7" y2="295.9" stroke="#111" stroke-width="1.5" />
<text x="501.5" y="300.2" font-size="8.3" text-anchor="start" fill="#111" stroke="#111" stroke-width="0.35" font-weight="bold" >Fitting</text>
<circle cx="309.6" cy="372.4" r="1.8" fill="#111"/>
<circle cx="312.84" cy="375.88" r="1.8" fill="#111"/>
<circle cx="316.07" cy="377.79" r="1.8" fill="#111"/>
<circle cx="319.31" cy="378.94" r="1.8" fill="#111"/>
<circle cx="322.54" cy="379.31" r="1.8" fill="#111"/>
<circle cx="325.78" cy="378.21" r="1.8" fill="#111"/>
<circle cx="329.02" cy="376.05" r="1.8" fill="#111"/>
<circle cx="332.25" cy="373.28" r="1.8" fill="#111"/>
<circle cx="335.49" cy="370" r="1.8" fill="#111"/>
<circle cx="338.72" cy="365.86" r="1.8" fill="#111"/>
<circle cx="341.96" cy="361.51" r="1.8" fill="#111"/>
<circle cx="345.2" cy="355.15" r="1.8" fill="#111"/>
<circle cx="348.43" cy="348.55" r="1.8" fill="#111"/>
<circle cx="351.67" cy="341.11" r="1.8" fill="#111"/>
<circle cx="354.9" cy="333.23" r="1.8" fill="#111"/>
<circle cx="358.14" cy="326.55" r="1.8" fill="#111"/>
<circle cx="361.38" cy="318.82" r="1.8" fill="#111"/>
<circle cx="364.61" cy="311.42" r="1.8" fill="#111"/>
<circle cx="367.85" cy="305.38" r="1.8" fill="#111"/>
<circle cx="371.08" cy="298.06" r="1.8" fill="#111"/>
<circle cx="374.32" cy="292.58" r="1.8" fill="#111"/>
<circle cx="377.56" cy="287.85" r="1.8" fill="#111"/>
<circle cx="380.79" cy="283.81" r="1.8" fill="#111"/>
<circle cx="384.03" cy="280.47" r="1.8" fill="#111"/>
<circle cx="387.26" cy="277.33" r="1.8" fill="#111"/>
<circle cx="390.5" cy="274.1" r="1.8" fill="#111"/>
<circle cx="393.74" cy="270.87" r="1.8" fill="#111"/>
<circle cx="396.97" cy="268.02" r="1.8" fill="#111"/>
<circle cx="400.21" cy="266.17" r="1.8" fill="#111"/>
<circle cx="403.44" cy="264.75" r="1.8" fill="#111"/>
<circle cx="406.68" cy="263.63" r="1.8" fill="#111"/>
<circle cx="409.92" cy="262.63" r="1.8" fill="#111"/>
<circle cx="413.15" cy="261.69" r="1.8" fill="#111"/>
<circle cx="416.39" cy="261.39" r="1.8" fill="#111"/>
<circle cx="419.62" cy="261.09" r="1.8" fill="#111"/>
<circle cx="422.86" cy="261.01" r="1.8" fill="#111"/>
<circle cx="426.1" cy="261.3" r="1.8" fill="#111"/>
<circle cx="429.33" cy="259.91" r="1.8" fill="#111"/>
<circle cx="432.57" cy="261.72" r="1.8" fill="#111"/>
<circle cx="435.8" cy="264" r="1.8" fill="#111"/>
<circle cx="439.04" cy="266.46" r="1.8" fill="#111"/>
<circle cx="442.28" cy="269.85" r="1.8" fill="#111"/>
<circle cx="445.51" cy="273.73" r="1.8" fill="#111"/>
<circle cx="448.75" cy="277.99" r="1.8" fill="#111"/>
<circle cx="451.98" cy="283.14" r="1.8" fill="#111"/>
<circle cx="455.22" cy="288.52" r="1.8" fill="#111"/>
<circle cx="458.46" cy="294.47" r="1.8" fill="#111"/>
<circle cx="461.69" cy="301.48" r="1.8" fill="#111"/>
<circle cx="464.93" cy="309.71" r="1.8" fill="#111"/>
<circle cx="468.16" cy="318.83" r="1.8" fill="#111"/>
<circle cx="471.4" cy="327.81" r="1.8" fill="#111"/>
<circle cx="474.64" cy="336.53" r="1.8" fill="#111"/>
<circle cx="477.87" cy="345.62" r="1.8" fill="#111"/>
<circle cx="481.11" cy="355.13" r="1.8" fill="#111"/>
<circle cx="484.34" cy="363.8" r="1.8" fill="#111"/>
<circle cx="487.58" cy="370.85" r="1.8" fill="#111"/>
<circle cx="490.82" cy="376.98" r="1.8" fill="#111"/>
<circle cx="494.05" cy="381.96" r="1.8" fill="#111"/>
<circle cx="497.29" cy="386.94" r="1.8" fill="#111"/>
<circle cx="500.52" cy="391.28" r="1.8" fill="#111"/>
<circle cx="503.76" cy="394.93" r="1.8" fill="#111"/>
<circle cx="507" cy="398.1" r="1.8" fill="#111"/>
<circle cx="510.23" cy="399.92" r="1.8" fill="#111"/>
<circle cx="513.47" cy="401.41" r="1.8" fill="#111"/>
<circle cx="516.7" cy="402.65" r="1.8" fill="#111"/>
<circle cx="519.94" cy="403.5" r="1.8" fill="#111"/>
<circle cx="523.18" cy="404.2" r="1.8" fill="#111"/>
<circle cx="526.41" cy="404.76" r="1.8" fill="#111"/>
<circle cx="529.65" cy="405.05" r="1.8" fill="#111"/>
<circle cx="532.88" cy="405.13" r="1.8" fill="#111"/>
<circle cx="536.12" cy="405.2" r="1.8" fill="#111"/>
<path d="M309.7 372.4 C310.3 373.07 311.97 375.37 313.3 376.4 C314.63 377.43 316.25 378.08 317.7 378.6 C319.15 379.12 320.55 379.6 322 379.5 C323.45 379.4 324.95 378.78 326.4 378 C327.85 377.22 329.25 376.05 330.7 374.8 C332.15 373.55 333.65 372.13 335.1 370.5 C336.55 368.87 338.13 366.67 339.4 365 C340.67 363.33 341.68 362.25 342.7 360.5 C343.72 358.75 344.47 356.65 345.5 354.5 C346.53 352.35 347.85 349.88 348.9 347.6 C349.95 345.32 350.78 343.23 351.8 340.8 C352.82 338.37 353.85 335.57 355 333 C356.15 330.43 357.65 327.73 358.7 325.4 C359.75 323.07 360.37 321.23 361.3 319 C362.23 316.77 363.22 314.25 364.3 312 C365.38 309.75 366.82 307.42 367.8 305.5 C368.78 303.58 369.22 302.33 370.2 300.5 C371.18 298.67 372.53 296.42 373.7 294.5 C374.87 292.58 376.03 290.55 377.2 289 C378.37 287.45 379.57 286.2 380.7 285.2 C381.83 284.2 382.87 283.6 384 283 C385.13 282.4 386.03 282.32 387.5 281.6 C388.97 280.88 391.33 279.47 392.8 278.7 C394.27 277.93 395.13 277.65 396.3 277 C397.47 276.35 398.63 275.72 399.8 274.8 C400.97 273.88 401.85 272.77 403.3 271.5 C404.75 270.23 406.77 268.37 408.5 267.2 C410.23 266.03 411.97 265.17 413.7 264.5 C415.43 263.83 417.17 263.45 418.9 263.2 C420.63 262.95 422.33 262.83 424.1 263 C425.87 263.17 427.68 263.58 429.5 264.2 C431.32 264.82 433.37 265.92 435 266.7 C436.63 267.48 437.85 267.88 439.3 268.9 C440.75 269.92 442.25 271.28 443.7 272.8 C445.15 274.32 446.55 275.97 448 278 C449.45 280.03 450.95 282.63 452.4 285 C453.85 287.37 455.35 289.78 456.7 292.2 C458.05 294.62 459.2 296.62 460.5 299.5 C461.8 302.38 463.18 306.03 464.5 309.5 C465.82 312.97 467.1 316.72 468.4 320.3 C469.7 323.88 470.95 327.3 472.3 331 C473.65 334.7 475.13 338.58 476.5 342.5 C477.87 346.42 479.2 350.83 480.5 354.5 C481.8 358.17 483.13 361.67 484.3 364.5 C485.47 367.33 486.43 369.32 487.5 371.5 C488.57 373.68 489.52 375.6 490.7 377.6 C491.88 379.6 493.3 381.53 494.6 383.5 C495.9 385.47 497.18 387.6 498.5 389.4 C499.82 391.2 501.02 392.7 502.5 394.3 C503.98 395.9 505.75 397.8 507.4 399 C509.05 400.2 510.78 400.8 512.4 401.5 C514.02 402.2 515.5 402.72 517.1 403.2 C518.7 403.68 520.22 404.05 522 404.4 C523.78 404.75 525.53 405.12 527.8 405.3 C530.07 405.48 534.3 405.47 535.6 405.5" fill="none" stroke="#111" stroke-width="1.3" stroke-linejoin="round" stroke-linecap="round" />
<circle cx="309.6" cy="347.1" r="1.95" fill="#f41c1c"/>
<circle cx="309.6" cy="347.1" r="0.78" fill="#ff7a7a"/>
<circle cx="312.84" cy="342.84" r="1.95" fill="#f41c1c"/>
<circle cx="312.84" cy="342.84" r="0.78" fill="#ff7a7a"/>
<circle cx="316.07" cy="344.11" r="1.95" fill="#f41c1c"/>
<circle cx="316.07" cy="344.11" r="0.78" fill="#ff7a7a"/>
<circle cx="319.31" cy="348.44" r="1.95" fill="#f41c1c"/>
<circle cx="319.31" cy="348.44" r="0.78" fill="#ff7a7a"/>
<circle cx="322.54" cy="350.82" r="1.95" fill="#f41c1c"/>
<circle cx="322.54" cy="350.82" r="0.78" fill="#ff7a7a"/>
<circle cx="325.78" cy="352.79" r="1.95" fill="#f41c1c"/>
<circle cx="325.78" cy="352.79" r="0.78" fill="#ff7a7a"/>
<circle cx="329.02" cy="354.77" r="1.95" fill="#f41c1c"/>
<circle cx="329.02" cy="354.77" r="0.78" fill="#ff7a7a"/>
<circle cx="332.25" cy="356.56" r="1.95" fill="#f41c1c"/>
<circle cx="332.25" cy="356.56" r="0.78" fill="#ff7a7a"/>
<circle cx="335.49" cy="358.15" r="1.95" fill="#f41c1c"/>
<circle cx="335.49" cy="358.15" r="0.78" fill="#ff7a7a"/>
<circle cx="338.72" cy="359.25" r="1.95" fill="#f41c1c"/>
<circle cx="338.72" cy="359.25" r="0.78" fill="#ff7a7a"/>
<circle cx="341.96" cy="359.97" r="1.95" fill="#f41c1c"/>
<circle cx="341.96" cy="359.97" r="0.78" fill="#ff7a7a"/>
<circle cx="345.2" cy="358.79" r="1.95" fill="#f41c1c"/>
<circle cx="345.2" cy="358.79" r="0.78" fill="#ff7a7a"/>
<circle cx="348.43" cy="356.42" r="1.95" fill="#f41c1c"/>
<circle cx="348.43" cy="356.42" r="0.78" fill="#ff7a7a"/>
<circle cx="351.67" cy="351.97" r="1.95" fill="#f41c1c"/>
<circle cx="351.67" cy="351.97" r="0.78" fill="#ff7a7a"/>
<circle cx="354.9" cy="345.89" r="1.95" fill="#f41c1c"/>
<circle cx="354.9" cy="345.89" r="0.78" fill="#ff7a7a"/>
<circle cx="358.14" cy="339.32" r="1.95" fill="#f41c1c"/>
<circle cx="358.14" cy="339.32" r="0.78" fill="#ff7a7a"/>
<circle cx="361.38" cy="332.84" r="1.95" fill="#f41c1c"/>
<circle cx="361.38" cy="332.84" r="0.78" fill="#ff7a7a"/>
<circle cx="364.61" cy="326.01" r="1.95" fill="#f41c1c"/>
<circle cx="364.61" cy="326.01" r="0.78" fill="#ff7a7a"/>
<circle cx="367.85" cy="318.53" r="1.95" fill="#f41c1c"/>
<circle cx="367.85" cy="318.53" r="0.78" fill="#ff7a7a"/>
<circle cx="371.08" cy="310.67" r="1.95" fill="#f41c1c"/>
<circle cx="371.08" cy="310.67" r="0.78" fill="#ff7a7a"/>
<circle cx="374.32" cy="302.8" r="1.95" fill="#f41c1c"/>
<circle cx="374.32" cy="302.8" r="0.78" fill="#ff7a7a"/>
<circle cx="377.56" cy="295.47" r="1.95" fill="#f41c1c"/>
<circle cx="377.56" cy="295.47" r="0.78" fill="#ff7a7a"/>
<circle cx="380.79" cy="289.35" r="1.95" fill="#f41c1c"/>
<circle cx="380.79" cy="289.35" r="0.78" fill="#ff7a7a"/>
<circle cx="384.03" cy="283.95" r="1.95" fill="#f41c1c"/>
<circle cx="384.03" cy="283.95" r="0.78" fill="#ff7a7a"/>
<circle cx="387.26" cy="279.09" r="1.95" fill="#f41c1c"/>
<circle cx="387.26" cy="279.09" r="0.78" fill="#ff7a7a"/>
<circle cx="390.5" cy="275.04" r="1.95" fill="#f41c1c"/>
<circle cx="390.5" cy="275.04" r="0.78" fill="#ff7a7a"/>
<circle cx="393.74" cy="271.77" r="1.95" fill="#f41c1c"/>
<circle cx="393.74" cy="271.77" r="0.78" fill="#ff7a7a"/>
<circle cx="396.97" cy="269.21" r="1.95" fill="#f41c1c"/>
<circle cx="396.97" cy="269.21" r="0.78" fill="#ff7a7a"/>
<circle cx="400.21" cy="267.1" r="1.95" fill="#f41c1c"/>
<circle cx="400.21" cy="267.1" r="0.78" fill="#ff7a7a"/>
<circle cx="403.44" cy="265.28" r="1.95" fill="#f41c1c"/>
<circle cx="403.44" cy="265.28" r="0.78" fill="#ff7a7a"/>
<circle cx="406.68" cy="264.31" r="1.95" fill="#f41c1c"/>
<circle cx="406.68" cy="264.31" r="0.78" fill="#ff7a7a"/>
<circle cx="409.92" cy="263.9" r="1.95" fill="#f41c1c"/>
<circle cx="409.92" cy="263.9" r="0.78" fill="#ff7a7a"/>
<circle cx="413.15" cy="263.93" r="1.95" fill="#f41c1c"/>
<circle cx="413.15" cy="263.93" r="0.78" fill="#ff7a7a"/>
<circle cx="416.39" cy="264.59" r="1.95" fill="#f41c1c"/>
<circle cx="416.39" cy="264.59" r="0.78" fill="#ff7a7a"/>
<circle cx="419.62" cy="265.42" r="1.95" fill="#f41c1c"/>
<circle cx="419.62" cy="265.42" r="0.78" fill="#ff7a7a"/>
<circle cx="422.86" cy="266.4" r="1.95" fill="#f41c1c"/>
<circle cx="422.86" cy="266.4" r="0.78" fill="#ff7a7a"/>
<circle cx="426.1" cy="267.5" r="1.95" fill="#f41c1c"/>
<circle cx="426.1" cy="267.5" r="0.78" fill="#ff7a7a"/>
<circle cx="429.33" cy="268.42" r="1.95" fill="#f41c1c"/>
<circle cx="429.33" cy="268.42" r="0.78" fill="#ff7a7a"/>
<circle cx="432.57" cy="273.56" r="1.95" fill="#f41c1c"/>
<circle cx="432.57" cy="273.56" r="0.78" fill="#ff7a7a"/>
<circle cx="435.8" cy="278.75" r="1.95" fill="#f41c1c"/>
<circle cx="435.8" cy="278.75" r="0.78" fill="#ff7a7a"/>
<circle cx="439.04" cy="286.54" r="1.95" fill="#f41c1c"/>
<circle cx="439.04" cy="286.54" r="0.78" fill="#ff7a7a"/>
<circle cx="442.28" cy="294.19" r="1.95" fill="#f41c1c"/>
<circle cx="442.28" cy="294.19" r="0.78" fill="#ff7a7a"/>
<circle cx="445.51" cy="302.44" r="1.95" fill="#f41c1c"/>
<circle cx="445.51" cy="302.44" r="0.78" fill="#ff7a7a"/>
<circle cx="448.75" cy="310.79" r="1.95" fill="#f41c1c"/>
<circle cx="448.75" cy="310.79" r="0.78" fill="#ff7a7a"/>
<circle cx="451.98" cy="319.28" r="1.95" fill="#f41c1c"/>
<circle cx="451.98" cy="319.28" r="0.78" fill="#ff7a7a"/>
<circle cx="455.22" cy="327.98" r="1.95" fill="#f41c1c"/>
<circle cx="455.22" cy="327.98" r="0.78" fill="#ff7a7a"/>
<circle cx="458.46" cy="336.91" r="1.95" fill="#f41c1c"/>
<circle cx="458.46" cy="336.91" r="0.78" fill="#ff7a7a"/>
<circle cx="461.69" cy="345.8" r="1.95" fill="#f41c1c"/>
<circle cx="461.69" cy="345.8" r="0.78" fill="#ff7a7a"/>
<circle cx="464.93" cy="354.54" r="1.95" fill="#f41c1c"/>
<circle cx="464.93" cy="354.54" r="0.78" fill="#ff7a7a"/>
<circle cx="468.16" cy="363.16" r="1.95" fill="#f41c1c"/>
<circle cx="468.16" cy="363.16" r="0.78" fill="#ff7a7a"/>
<circle cx="471.4" cy="371.25" r="1.95" fill="#f41c1c"/>
<circle cx="471.4" cy="371.25" r="0.78" fill="#ff7a7a"/>
<circle cx="474.64" cy="378.02" r="1.95" fill="#f41c1c"/>
<circle cx="474.64" cy="378.02" r="0.78" fill="#ff7a7a"/>
<circle cx="477.87" cy="383.68" r="1.95" fill="#f41c1c"/>
<circle cx="477.87" cy="383.68" r="0.78" fill="#ff7a7a"/>
<circle cx="481.11" cy="388.95" r="1.95" fill="#f41c1c"/>
<circle cx="481.11" cy="388.95" r="0.78" fill="#ff7a7a"/>
<circle cx="484.34" cy="394.06" r="1.95" fill="#f41c1c"/>
<circle cx="484.34" cy="394.06" r="0.78" fill="#ff7a7a"/>
<circle cx="487.58" cy="398.12" r="1.95" fill="#f41c1c"/>
<circle cx="487.58" cy="398.12" r="0.78" fill="#ff7a7a"/>
<circle cx="490.82" cy="400.18" r="1.95" fill="#f41c1c"/>
<circle cx="490.82" cy="400.18" r="0.78" fill="#ff7a7a"/>
<circle cx="494.05" cy="402.1" r="1.95" fill="#f41c1c"/>
<circle cx="494.05" cy="402.1" r="0.78" fill="#ff7a7a"/>
<circle cx="497.29" cy="404.02" r="1.95" fill="#f41c1c"/>
<circle cx="497.29" cy="404.02" r="0.78" fill="#ff7a7a"/>
<circle cx="500.52" cy="405.96" r="1.95" fill="#f41c1c"/>
<circle cx="500.52" cy="405.96" r="0.78" fill="#ff7a7a"/>
<circle cx="503.76" cy="407.85" r="1.95" fill="#f41c1c"/>
<circle cx="503.76" cy="407.85" r="0.78" fill="#ff7a7a"/>
<circle cx="507" cy="409.16" r="1.95" fill="#f41c1c"/>
<circle cx="507" cy="409.16" r="0.78" fill="#ff7a7a"/>
<circle cx="510.23" cy="410.34" r="1.95" fill="#f41c1c"/>
<circle cx="510.23" cy="410.34" r="0.78" fill="#ff7a7a"/>
<circle cx="513.47" cy="411.16" r="1.95" fill="#f41c1c"/>
<circle cx="513.47" cy="411.16" r="0.78" fill="#ff7a7a"/>
<circle cx="516.7" cy="411.8" r="1.95" fill="#f41c1c"/>
<circle cx="516.7" cy="411.8" r="0.78" fill="#ff7a7a"/>
<circle cx="519.94" cy="412.23" r="1.95" fill="#f41c1c"/>
<circle cx="519.94" cy="412.23" r="0.78" fill="#ff7a7a"/>
<circle cx="523.18" cy="412.64" r="1.95" fill="#f41c1c"/>
<circle cx="523.18" cy="412.64" r="0.78" fill="#ff7a7a"/>
<circle cx="526.41" cy="413.01" r="1.95" fill="#f41c1c"/>
<circle cx="526.41" cy="413.01" r="0.78" fill="#ff7a7a"/>
<circle cx="529.65" cy="413.24" r="1.95" fill="#f41c1c"/>
<circle cx="529.65" cy="413.24" r="0.78" fill="#ff7a7a"/>
<circle cx="532.88" cy="413.33" r="1.95" fill="#f41c1c"/>
<circle cx="532.88" cy="413.33" r="0.78" fill="#ff7a7a"/>
<circle cx="536.12" cy="413.4" r="1.95" fill="#f41c1c"/>
<circle cx="536.12" cy="413.4" r="0.78" fill="#ff7a7a"/>
<path d="M309.7 342.5 C310.67 343.17 313.62 345.2 315.5 346.5 C317.38 347.8 319.18 349.12 321 350.3 C322.82 351.48 324.6 352.6 326.4 353.6 C328.2 354.6 329.98 355.48 331.8 356.3 C333.62 357.12 335.48 357.98 337.3 358.5 C339.12 359.02 341.17 359.38 342.7 359.4 C344.23 359.42 345.28 359.2 346.5 358.6 C347.72 358 348.75 357.27 350 355.8 C351.25 354.33 352.55 352.1 354 349.8 C355.45 347.5 357.05 344.8 358.7 342 C360.35 339.2 362.3 336.08 363.9 333 C365.5 329.92 367 326.5 368.3 323.5 C369.6 320.5 370.55 317.83 371.7 315 C372.85 312.17 374 309.42 375.2 306.5 C376.4 303.58 377.7 300.25 378.9 297.5 C380.1 294.75 381.23 292.33 382.4 290 C383.57 287.67 384.75 285.5 385.9 283.5 C387.05 281.5 388.15 279.67 389.3 278 C390.45 276.33 391.63 274.8 392.8 273.5 C393.97 272.2 395.1 271.2 396.3 270.2 C397.5 269.2 398.67 268.37 400 267.5 C401.33 266.63 402.85 265.58 404.3 265 C405.75 264.42 407.25 264.18 408.7 264 C410.15 263.82 411.55 263.77 413 263.9 C414.45 264.03 415.95 264.43 417.4 264.8 C418.85 265.17 420.25 265.48 421.7 266.1 C423.15 266.72 424.78 267.45 426.1 268.5 C427.42 269.55 428.58 271.15 429.6 272.4 C430.62 273.65 431.33 274.77 432.2 276 C433.07 277.23 433.9 278.22 434.8 279.8 C435.7 281.38 436.7 283.63 437.6 285.5 C438.5 287.37 439.33 289.08 440.2 291 C441.07 292.92 442.02 295.33 442.8 297 C443.58 298.67 443.9 298.83 444.9 301 C445.9 303.17 447.58 306.9 448.8 310 C450.02 313.1 451.05 316.37 452.2 319.6 C453.35 322.83 454.55 326.25 455.7 329.4 C456.85 332.55 457.92 335.23 459.1 338.5 C460.28 341.77 461.53 345.5 462.8 349 C464.07 352.5 465.38 356.08 466.7 359.5 C468.02 362.92 469.38 366.5 470.7 369.5 C472.02 372.5 473.33 375.17 474.6 377.5 C475.87 379.83 477.08 381.53 478.3 383.5 C479.52 385.47 480.48 387.35 481.9 389.3 C483.32 391.25 485.17 393.53 486.8 395.2 C488.43 396.87 489.9 397.97 491.7 399.3 C493.5 400.63 495.65 402.07 497.6 403.2 C499.55 404.33 501.45 405.22 503.4 406.1 C505.35 406.98 507.02 407.77 509.3 408.5 C511.58 409.23 514.02 409.83 517.1 410.5 C520.18 411.17 524.72 412.08 527.8 412.5 C530.88 412.92 534.3 412.92 535.6 413" fill="none" stroke="#f41c1c" stroke-width="1.3" stroke-linejoin="round" stroke-linecap="round" />
<circle cx="309.6" cy="320" r="1.9" fill="#1a1aee"/>
<circle cx="312.84" cy="324.14" r="1.9" fill="#1a1aee"/>
<circle cx="316.07" cy="326.72" r="1.9" fill="#1a1aee"/>
<circle cx="319.31" cy="332.01" r="1.9" fill="#1a1aee"/>
<circle cx="322.54" cy="336.57" r="1.9" fill="#1a1aee"/>
<circle cx="325.78" cy="341.32" r="1.9" fill="#1a1aee"/>
<circle cx="329.02" cy="345.02" r="1.9" fill="#1a1aee"/>
<circle cx="332.25" cy="348.74" r="1.9" fill="#1a1aee"/>
<circle cx="335.49" cy="352.18" r="1.9" fill="#1a1aee"/>
<circle cx="338.72" cy="355.18" r="1.9" fill="#1a1aee"/>
<circle cx="341.96" cy="358.24" r="1.9" fill="#1a1aee"/>
<circle cx="345.2" cy="360.74" r="1.9" fill="#1a1aee"/>
<circle cx="348.43" cy="361.62" r="1.9" fill="#1a1aee"/>
<circle cx="351.67" cy="360.83" r="1.9" fill="#1a1aee"/>
<circle cx="354.9" cy="358.8" r="1.9" fill="#1a1aee"/>
<circle cx="358.14" cy="356.03" r="1.9" fill="#1a1aee"/>
<circle cx="361.38" cy="352.15" r="1.9" fill="#1a1aee"/>
<circle cx="364.61" cy="346.95" r="1.9" fill="#1a1aee"/>
<circle cx="367.85" cy="340.78" r="1.9" fill="#1a1aee"/>
<circle cx="371.08" cy="333.47" r="1.9" fill="#1a1aee"/>
<circle cx="374.32" cy="325.66" r="1.9" fill="#1a1aee"/>
<circle cx="377.56" cy="318.53" r="1.9" fill="#1a1aee"/>
<circle cx="380.79" cy="310.42" r="1.9" fill="#1a1aee"/>
<circle cx="384.03" cy="303.96" r="1.9" fill="#1a1aee"/>
<circle cx="387.26" cy="297.7" r="1.9" fill="#1a1aee"/>
<circle cx="390.5" cy="291.96" r="1.9" fill="#1a1aee"/>
<circle cx="393.74" cy="287.16" r="1.9" fill="#1a1aee"/>
<circle cx="396.97" cy="283.23" r="1.9" fill="#1a1aee"/>
<circle cx="400.21" cy="280" r="1.9" fill="#1a1aee"/>
<circle cx="403.44" cy="276.87" r="1.9" fill="#1a1aee"/>
<circle cx="406.68" cy="273.87" r="1.9" fill="#1a1aee"/>
<circle cx="409.92" cy="271.56" r="1.9" fill="#1a1aee"/>
<circle cx="413.15" cy="270.15" r="1.9" fill="#1a1aee"/>
<circle cx="416.39" cy="269.63" r="1.9" fill="#1a1aee"/>
<circle cx="419.62" cy="269.76" r="1.9" fill="#1a1aee"/>
<circle cx="422.86" cy="270.53" r="1.9" fill="#1a1aee"/>
<circle cx="426.1" cy="272" r="1.9" fill="#1a1aee"/>
<circle cx="429.33" cy="274.77" r="1.9" fill="#1a1aee"/>
<circle cx="432.57" cy="278.23" r="1.9" fill="#1a1aee"/>
<circle cx="435.8" cy="282.14" r="1.9" fill="#1a1aee"/>
<circle cx="439.04" cy="286.85" r="1.9" fill="#1a1aee"/>
<circle cx="442.28" cy="292.42" r="1.9" fill="#1a1aee"/>
<circle cx="445.51" cy="298.52" r="1.9" fill="#1a1aee"/>
<circle cx="448.75" cy="305.52" r="1.9" fill="#1a1aee"/>
<circle cx="451.98" cy="313.47" r="1.9" fill="#1a1aee"/>
<circle cx="455.22" cy="322.2" r="1.9" fill="#1a1aee"/>
<circle cx="458.46" cy="330.63" r="1.9" fill="#1a1aee"/>
<circle cx="461.69" cy="339.21" r="1.9" fill="#1a1aee"/>
<circle cx="464.93" cy="348.43" r="1.9" fill="#1a1aee"/>
<circle cx="468.16" cy="357.59" r="1.9" fill="#1a1aee"/>
<circle cx="471.4" cy="365.74" r="1.9" fill="#1a1aee"/>
<circle cx="474.64" cy="372.75" r="1.9" fill="#1a1aee"/>
<circle cx="477.87" cy="378.61" r="1.9" fill="#1a1aee"/>
<circle cx="481.11" cy="384.23" r="1.9" fill="#1a1aee"/>
<circle cx="484.34" cy="388.99" r="1.9" fill="#1a1aee"/>
<circle cx="487.58" cy="393.18" r="1.9" fill="#1a1aee"/>
<circle cx="490.82" cy="396.42" r="1.9" fill="#1a1aee"/>
<circle cx="494.05" cy="398.89" r="1.9" fill="#1a1aee"/>
<circle cx="497.29" cy="401.09" r="1.9" fill="#1a1aee"/>
<circle cx="500.52" cy="402.76" r="1.9" fill="#1a1aee"/>
<circle cx="503.76" cy="404.32" r="1.9" fill="#1a1aee"/>
<circle cx="507" cy="405.42" r="1.9" fill="#1a1aee"/>
<circle cx="510.23" cy="406.4" r="1.9" fill="#1a1aee"/>
<circle cx="513.47" cy="407.11" r="1.9" fill="#1a1aee"/>
<circle cx="516.7" cy="407.81" r="1.9" fill="#1a1aee"/>
<circle cx="519.94" cy="408.46" r="1.9" fill="#1a1aee"/>
<circle cx="523.18" cy="409.09" r="1.9" fill="#1a1aee"/>
<circle cx="526.41" cy="409.73" r="1.9" fill="#1a1aee"/>
<circle cx="529.65" cy="410.12" r="1.9" fill="#1a1aee"/>
<circle cx="532.88" cy="410.33" r="1.9" fill="#1a1aee"/>
<circle cx="536.12" cy="410.5" r="1.9" fill="#1a1aee"/>
<path d="M309.7 327 C309.87 326.48 310.1 325.28 310.7 323.9 C311.3 322.52 312.28 320.07 313.3 318.7 C314.32 317.33 315.63 316.25 316.8 315.7 C317.97 315.15 319.13 315.05 320.3 315.4 C321.47 315.75 322.63 316.53 323.8 317.8 C324.97 319.07 326.15 320.82 327.3 323 C328.45 325.18 329.55 328.28 330.7 330.9 C331.85 333.52 333.15 336.43 334.2 338.7 C335.25 340.97 336.13 342.83 337 344.5 C337.87 346.17 338.45 346.95 339.4 348.7 C340.35 350.45 341.6 353.18 342.7 355 C343.8 356.82 344.97 358.6 346 359.6 C347.03 360.6 347.77 361 348.9 361 C350.03 361 351.5 360.37 352.8 359.6 C354.1 358.83 355.38 357.75 356.7 356.4 C358.02 355.05 359.38 353.37 360.7 351.5 C362.02 349.63 363.38 347.45 364.6 345.2 C365.82 342.95 366.95 340.45 368 338 C369.05 335.55 369.85 333.1 370.9 330.5 C371.95 327.9 373.28 324.92 374.3 322.4 C375.32 319.88 376.1 317.67 377 315.4 C377.9 313.13 378.8 310.95 379.7 308.8 C380.6 306.65 381.37 304.77 382.4 302.5 C383.43 300.23 384.75 297.43 385.9 295.2 C387.05 292.97 388.15 290.97 389.3 289.1 C390.45 287.23 391.63 285.58 392.8 284 C393.97 282.42 395.1 281.02 396.3 279.6 C397.5 278.18 398.67 276.9 400 275.5 C401.33 274.1 402.85 272.3 404.3 271.2 C405.75 270.1 407.25 269.47 408.7 268.9 C410.15 268.33 411.55 267.98 413 267.8 C414.45 267.62 415.95 267.65 417.4 267.8 C418.85 267.95 420.25 268.12 421.7 268.7 C423.15 269.28 424.78 270.28 426.1 271.3 C427.42 272.32 428.45 273.57 429.6 274.8 C430.75 276.03 431.85 277.33 433 278.7 C434.15 280.07 435.33 281.4 436.5 283 C437.67 284.6 438.8 286.3 440 288.3 C441.2 290.3 442.48 292.72 443.7 295 C444.92 297.28 445.97 299.05 447.3 302 C448.63 304.95 450.3 309.12 451.7 312.7 C453.1 316.28 454.47 320.23 455.7 323.5 C456.93 326.77 457.88 329.1 459.1 332.3 C460.32 335.5 461.72 339.08 463 342.7 C464.28 346.32 465.53 350.45 466.8 354 C468.07 357.55 469.32 360.92 470.6 364 C471.88 367.08 473.23 369.97 474.5 372.5 C475.77 375.03 476.97 377.02 478.2 379.2 C479.43 381.38 480.47 383.4 481.9 385.6 C483.33 387.8 485.17 390.45 486.8 392.4 C488.43 394.35 489.9 395.82 491.7 397.3 C493.5 398.78 495.65 400.15 497.6 401.3 C499.55 402.45 501.45 403.38 503.4 404.2 C505.35 405.02 507.02 405.58 509.3 406.2 C511.58 406.82 514.02 407.27 517.1 407.9 C520.18 408.53 524.72 409.57 527.8 410 C530.88 410.43 534.3 410.42 535.6 410.5" fill="none" stroke="#1a1aee" stroke-width="1.3" stroke-linejoin="round" stroke-linecap="round" />
<circle cx="309.6" cy="376.5" r="2.0" fill="#12cf92"/>
<circle cx="312.84" cy="379.37" r="2.0" fill="#12cf92"/>
<circle cx="316.07" cy="381.44" r="2.0" fill="#12cf92"/>
<circle cx="319.31" cy="382.67" r="2.0" fill="#12cf92"/>
<circle cx="322.54" cy="383.59" r="2.0" fill="#12cf92"/>
<circle cx="325.78" cy="384.15" r="2.0" fill="#12cf92"/>
<circle cx="329.02" cy="383.13" r="2.0" fill="#12cf92"/>
<circle cx="332.25" cy="381.78" r="2.0" fill="#12cf92"/>
<circle cx="335.49" cy="380.08" r="2.0" fill="#12cf92"/>
<circle cx="338.72" cy="377.92" r="2.0" fill="#12cf92"/>
<circle cx="341.96" cy="375.52" r="2.0" fill="#12cf92"/>
<circle cx="345.2" cy="372.12" r="2.0" fill="#12cf92"/>
<circle cx="348.43" cy="367.83" r="2.0" fill="#12cf92"/>
<circle cx="351.67" cy="363.51" r="2.0" fill="#12cf92"/>
<circle cx="354.9" cy="359.03" r="2.0" fill="#12cf92"/>
<circle cx="358.14" cy="354.27" r="2.0" fill="#12cf92"/>
<circle cx="361.38" cy="349.12" r="2.0" fill="#12cf92"/>
<circle cx="364.61" cy="343.48" r="2.0" fill="#12cf92"/>
<circle cx="367.85" cy="338.09" r="2.0" fill="#12cf92"/>
<circle cx="371.08" cy="333.51" r="2.0" fill="#12cf92"/>
<circle cx="374.32" cy="328.89" r="2.0" fill="#12cf92"/>
<circle cx="377.56" cy="323.16" r="2.0" fill="#12cf92"/>
<circle cx="380.79" cy="317.7" r="2.0" fill="#12cf92"/>
<circle cx="384.03" cy="312.85" r="2.0" fill="#12cf92"/>
<circle cx="387.26" cy="308.2" r="2.0" fill="#12cf92"/>
<circle cx="390.5" cy="303.09" r="2.0" fill="#12cf92"/>
<circle cx="393.74" cy="298.66" r="2.0" fill="#12cf92"/>
<circle cx="396.97" cy="294.77" r="2.0" fill="#12cf92"/>
<circle cx="400.21" cy="290.58" r="2.0" fill="#12cf92"/>
<circle cx="403.44" cy="286.95" r="2.0" fill="#12cf92"/>
<circle cx="406.68" cy="284" r="2.0" fill="#12cf92"/>
<circle cx="409.92" cy="281.54" r="2.0" fill="#12cf92"/>
<circle cx="413.15" cy="279.53" r="2.0" fill="#12cf92"/>
<circle cx="416.39" cy="278.06" r="2.0" fill="#12cf92"/>
<circle cx="419.62" cy="276.82" r="2.0" fill="#12cf92"/>
<circle cx="422.86" cy="275.1" r="2.0" fill="#12cf92"/>
<circle cx="426.1" cy="272.3" r="2.0" fill="#12cf92"/>
<circle cx="429.33" cy="271.47" r="2.0" fill="#12cf92"/>
<circle cx="432.57" cy="274.45" r="2.0" fill="#12cf92"/>
<circle cx="435.8" cy="277.56" r="2.0" fill="#12cf92"/>
<circle cx="439.04" cy="280" r="2.0" fill="#12cf92"/>
<circle cx="442.28" cy="282.58" r="2.0" fill="#12cf92"/>
<circle cx="445.51" cy="286.1" r="2.0" fill="#12cf92"/>
<circle cx="448.75" cy="290.85" r="2.0" fill="#12cf92"/>
<circle cx="451.98" cy="296.7" r="2.0" fill="#12cf92"/>
<circle cx="455.22" cy="305.19" r="2.0" fill="#12cf92"/>
<circle cx="458.46" cy="314.61" r="2.0" fill="#12cf92"/>
<circle cx="461.69" cy="324.54" r="2.0" fill="#12cf92"/>
<circle cx="464.93" cy="333.8" r="2.0" fill="#12cf92"/>
<circle cx="468.16" cy="342.52" r="2.0" fill="#12cf92"/>
<circle cx="471.4" cy="352.38" r="2.0" fill="#12cf92"/>
<circle cx="474.64" cy="361.09" r="2.0" fill="#12cf92"/>
<circle cx="477.87" cy="369.4" r="2.0" fill="#12cf92"/>
<circle cx="481.11" cy="376.97" r="2.0" fill="#12cf92"/>
<circle cx="484.34" cy="382.87" r="2.0" fill="#12cf92"/>
<circle cx="487.58" cy="387.48" r="2.0" fill="#12cf92"/>
<circle cx="490.82" cy="391.42" r="2.0" fill="#12cf92"/>
<circle cx="494.05" cy="394.65" r="2.0" fill="#12cf92"/>
<circle cx="497.29" cy="397.34" r="2.0" fill="#12cf92"/>
<circle cx="500.52" cy="399.54" r="2.0" fill="#12cf92"/>
<circle cx="503.76" cy="401.39" r="2.0" fill="#12cf92"/>
<circle cx="507" cy="403.09" r="2.0" fill="#12cf92"/>
<circle cx="510.23" cy="404.47" r="2.0" fill="#12cf92"/>
<circle cx="513.47" cy="405.78" r="2.0" fill="#12cf92"/>
<circle cx="516.7" cy="406.78" r="2.0" fill="#12cf92"/>
<circle cx="519.94" cy="407.48" r="2.0" fill="#12cf92"/>
<circle cx="523.18" cy="408.02" r="2.0" fill="#12cf92"/>
<circle cx="526.41" cy="408.34" r="2.0" fill="#12cf92"/>
<circle cx="529.65" cy="408.54" r="2.0" fill="#12cf92"/>
<circle cx="532.88" cy="408.63" r="2.0" fill="#12cf92"/>
<circle cx="536.12" cy="408.7" r="2.0" fill="#12cf92"/>
<path d="M309.7 376.5 C310.48 377.22 312.7 379.73 314.4 380.8 C316.1 381.87 318.08 382.32 319.9 382.9 C321.72 383.48 323.5 384.35 325.3 384.3 C327.1 384.25 328.88 383.37 330.7 382.6 C332.52 381.83 334.38 380.82 336.2 379.7 C338.02 378.58 340.05 377.22 341.6 375.9 C343.15 374.58 344.28 373.25 345.5 371.8 C346.72 370.35 347.68 368.83 348.9 367.2 C350.12 365.57 351.5 363.78 352.8 362 C354.1 360.22 355.38 358.45 356.7 356.5 C358.02 354.55 359.38 352.47 360.7 350.3 C362.02 348.13 363.3 345.72 364.6 343.5 C365.9 341.28 367.23 338.92 368.5 337 C369.77 335.08 371.08 333.57 372.2 332 C373.32 330.43 374.12 329.43 375.2 327.6 C376.28 325.77 377.48 323.1 378.7 321 C379.92 318.9 381.17 316.98 382.5 315 C383.83 313.02 385.42 311.02 386.7 309.1 C387.98 307.18 389.03 305.23 390.2 303.5 C391.37 301.77 392.53 300.2 393.7 298.7 C394.87 297.2 396.07 295.92 397.2 294.5 C398.33 293.08 399.32 291.62 400.5 290.2 C401.68 288.78 402.93 287.32 404.3 286 C405.67 284.68 407.25 283.37 408.7 282.3 C410.15 281.23 411.55 280.38 413 279.6 C414.45 278.82 415.95 278.18 417.4 277.6 C418.85 277.02 420.25 276.62 421.7 276.1 C423.15 275.58 424.72 274.93 426.1 274.5 C427.48 274.07 428.68 273.22 430 273.5 C431.32 273.78 432.45 275.08 434 276.2 C435.55 277.32 437.83 279.07 439.3 280.2 C440.77 281.33 441.63 281.87 442.8 283 C443.97 284.13 445.13 285.42 446.3 287 C447.47 288.58 448.78 290.75 449.8 292.5 C450.82 294.25 451.42 295.17 452.4 297.5 C453.38 299.83 454.58 303.33 455.7 306.5 C456.82 309.67 458.05 313.33 459.1 316.5 C460.15 319.67 461.02 322.58 462 325.5 C462.98 328.42 464 331.25 465 334 C466 336.75 467.05 339.25 468 342 C468.95 344.75 469.6 347.33 470.7 350.5 C471.8 353.67 473.33 357.67 474.6 361 C475.87 364.33 477.08 367.53 478.3 370.5 C479.52 373.47 480.65 376.33 481.9 378.8 C483.15 381.27 484.33 383.22 485.8 385.3 C487.27 387.38 489.07 389.48 490.7 391.3 C492.33 393.12 493.8 394.72 495.6 396.2 C497.4 397.68 499.53 399.02 501.5 400.2 C503.47 401.38 505.45 402.38 507.4 403.3 C509.35 404.22 511.58 405.1 513.2 405.7 C514.82 406.3 515.63 406.53 517.1 406.9 C518.57 407.27 520.18 407.63 522 407.9 C523.82 408.17 525.73 408.37 528 408.5 C530.27 408.63 534.33 408.67 535.6 408.7" fill="none" stroke="#10c88c" stroke-width="1.3" stroke-linejoin="round" stroke-linecap="round" />
<circle cx="516.4" cy="414.2" r="1.9" fill="#1a1aee"/>
</svg>
</body></html>
